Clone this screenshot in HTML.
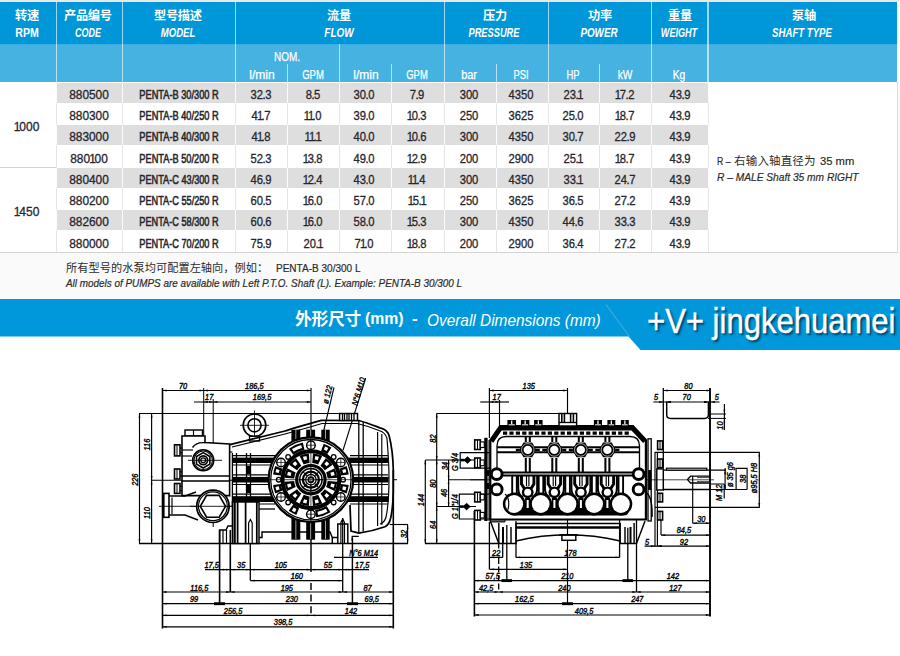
<!DOCTYPE html><html><head><meta charset="utf-8"><title>PENTA pumps - technical data</title><style>html,body{margin:0;padding:0;overflow:hidden;background:#fff}#pg{position:relative;width:900px;height:656px;overflow:hidden;background:#fff;font-family:"Liberation Sans",sans-serif}.cjk{font-family:"Liberation Sans","Noto Sans CJK SC",sans-serif}</style></head><body><div id="pg"><div style="position:absolute;left:0px;top:0px;width:900px;height:299px;background:#fafafa;"></div>
<div style="position:absolute;left:0px;top:0px;width:900px;height:2px;background:#ebe8e8;"></div>
<div style="position:absolute;left:0px;top:82px;width:897px;height:170.5px;background:#ffffff;"></div>
<div style="position:absolute;left:0px;top:2px;width:896.5px;height:42px;background:#0097d8;"></div>
<div style="position:absolute;left:0px;top:44px;width:896.5px;height:38px;background:#45b2e2;"></div>
<div style="position:absolute;left:0px;top:43.5px;width:896.5px;height:1px;background:#3aaee2;"></div>
<div style="position:absolute;left:55.8px;top:2px;width:1.4px;height:80px;background:rgba(255,255,255,.62);"></div>
<div style="position:absolute;left:121.8px;top:2px;width:1.4px;height:80px;background:rgba(255,255,255,.62);"></div>
<div style="position:absolute;left:234.8px;top:2px;width:1.4px;height:80px;background:rgba(255,255,255,.62);"></div>
<div style="position:absolute;left:443.8px;top:2px;width:1.4px;height:80px;background:rgba(255,255,255,.62);"></div>
<div style="position:absolute;left:547.8px;top:2px;width:1.4px;height:80px;background:rgba(255,255,255,.62);"></div>
<div style="position:absolute;left:650.8px;top:2px;width:1.4px;height:80px;background:rgba(255,255,255,.62);"></div>
<div style="position:absolute;left:707.3px;top:2px;width:1.4px;height:80px;background:rgba(255,255,255,.62);"></div>
<div style="position:absolute;left:338.8px;top:44px;width:1.4px;height:38px;background:rgba(255,255,255,.62);"></div>
<div style="position:absolute;left:286.8px;top:63.5px;width:1.4px;height:18.5px;background:rgba(255,255,255,.62);"></div>
<div style="position:absolute;left:390.8px;top:63.5px;width:1.4px;height:18.5px;background:rgba(255,255,255,.62);"></div>
<div style="position:absolute;left:495.8px;top:63.5px;width:1.4px;height:18.5px;background:rgba(255,255,255,.62);"></div>
<div style="position:absolute;left:598.8px;top:63.5px;width:1.4px;height:18.5px;background:rgba(255,255,255,.62);"></div>
<svg style="position:absolute;left:15.40px;top:7.70px;overflow:visible" width="23.80" height="15.86" fill="#fff"><text class="cjk" x="0" y="12.2" font-size="12.2" font-weight="bold" letter-spacing="-0.3" fill="#fff">转速</text></svg>
<div style="position:absolute;top:25.00px;height:16px;line-height:16px;font-size:12px;color:#fff;white-space:nowrap;font-weight:bold;left:-173.20px;width:400px;text-align:center;transform:scaleX(0.8813);">RPM</div>
<svg style="position:absolute;left:63.60px;top:7.70px;overflow:visible" width="47.60" height="15.86" fill="#fff"><text class="cjk" x="0" y="12.2" font-size="12.2" font-weight="bold" letter-spacing="-0.3" fill="#fff">产品编号</text></svg>
<div style="position:absolute;top:25.00px;height:16px;line-height:16px;font-size:12px;color:#fff;white-space:nowrap;font-weight:bold;font-style:italic;left:-111.70px;width:400px;text-align:center;transform:scaleX(0.7442);">CODE</div>
<svg style="position:absolute;left:154.00px;top:7.70px;overflow:visible" width="47.60" height="15.86" fill="#fff"><text class="cjk" x="0" y="12.2" font-size="12.2" font-weight="bold" letter-spacing="-0.3" fill="#fff">型号描述</text></svg>
<div style="position:absolute;top:25.00px;height:16px;line-height:16px;font-size:12px;color:#fff;white-space:nowrap;font-weight:bold;font-style:italic;left:-21.80px;width:400px;text-align:center;transform:scaleX(0.7939);">MODEL</div>
<svg style="position:absolute;left:327.00px;top:7.70px;overflow:visible" width="23.80" height="15.86" fill="#fff"><text class="cjk" x="0" y="12.2" font-size="12.2" font-weight="bold" letter-spacing="-0.3" fill="#fff">流量</text></svg>
<div style="position:absolute;top:25.00px;height:16px;line-height:16px;font-size:12px;color:#fff;white-space:nowrap;font-weight:bold;font-style:italic;left:139.40px;width:400px;text-align:center;transform:scaleX(0.8296);">FLOW</div>
<svg style="position:absolute;left:482.90px;top:7.70px;overflow:visible" width="23.80" height="15.86" fill="#fff"><text class="cjk" x="0" y="12.2" font-size="12.2" font-weight="bold" letter-spacing="-0.3" fill="#fff">压力</text></svg>
<div style="position:absolute;top:25.00px;height:16px;line-height:16px;font-size:12px;color:#fff;white-space:nowrap;font-weight:bold;font-style:italic;left:294.20px;width:400px;text-align:center;transform:scaleX(0.7725);">PRESSURE</div>
<svg style="position:absolute;left:587.90px;top:7.70px;overflow:visible" width="23.80" height="15.86" fill="#fff"><text class="cjk" x="0" y="12.2" font-size="12.2" font-weight="bold" letter-spacing="-0.3" fill="#fff">功率</text></svg>
<div style="position:absolute;top:25.00px;height:16px;line-height:16px;font-size:12px;color:#fff;white-space:nowrap;font-weight:bold;font-style:italic;left:399.20px;width:400px;text-align:center;transform:scaleX(0.8206);">POWER</div>
<svg style="position:absolute;left:668.30px;top:7.70px;overflow:visible" width="23.80" height="15.86" fill="#fff"><text class="cjk" x="0" y="12.2" font-size="12.2" font-weight="bold" letter-spacing="-0.3" fill="#fff">重量</text></svg>
<div style="position:absolute;top:25.00px;height:16px;line-height:16px;font-size:12px;color:#fff;white-space:nowrap;font-weight:bold;font-style:italic;left:478.80px;width:400px;text-align:center;transform:scaleX(0.7563);">WEIGHT</div>
<svg style="position:absolute;left:792.30px;top:7.70px;overflow:visible" width="23.80" height="15.86" fill="#fff"><text class="cjk" x="0" y="12.2" font-size="12.2" font-weight="bold" letter-spacing="-0.3" fill="#fff">泵轴</text></svg>
<div style="position:absolute;top:25.00px;height:16px;line-height:16px;font-size:12px;color:#fff;white-space:nowrap;font-weight:bold;font-style:italic;left:601.50px;width:400px;text-align:center;transform:scaleX(0.8008);">SHAFT TYPE</div>
<div style="position:absolute;top:49.00px;height:16px;line-height:16px;font-size:12.3px;color:#fff;white-space:nowrap;left:86.60px;width:400px;text-align:center;transform:scaleX(0.8065);-webkit-text-stroke:0.25px #fff;">NOM.</div>
<div style="position:absolute;top:67.00px;height:16px;line-height:16px;font-size:12.3px;color:#fff;white-space:nowrap;left:61.80px;width:400px;text-align:center;transform:scaleX(0.9819);-webkit-text-stroke:0.25px #fff;">l/min</div>
<div style="position:absolute;top:67.00px;height:16px;line-height:16px;font-size:12.3px;color:#fff;white-space:nowrap;left:113.30px;width:400px;text-align:center;transform:scaleX(0.7745);-webkit-text-stroke:0.25px #fff;">GPM</div>
<div style="position:absolute;top:67.00px;height:16px;line-height:16px;font-size:12.3px;color:#fff;white-space:nowrap;left:165.70px;width:400px;text-align:center;transform:scaleX(0.9781);-webkit-text-stroke:0.25px #fff;">l/min</div>
<div style="position:absolute;top:67.00px;height:16px;line-height:16px;font-size:12.3px;color:#fff;white-space:nowrap;left:217.30px;width:400px;text-align:center;transform:scaleX(0.7674);-webkit-text-stroke:0.25px #fff;">GPM</div>
<div style="position:absolute;top:67.00px;height:16px;line-height:16px;font-size:12.3px;color:#fff;white-space:nowrap;left:269.40px;width:400px;text-align:center;transform:scaleX(0.8831);-webkit-text-stroke:0.25px #fff;">bar</div>
<div style="position:absolute;top:67.00px;height:16px;line-height:16px;font-size:12.3px;color:#fff;white-space:nowrap;left:320.90px;width:400px;text-align:center;transform:scaleX(0.7667);-webkit-text-stroke:0.25px #fff;">PSI</div>
<div style="position:absolute;top:67.00px;height:16px;line-height:16px;font-size:12.3px;color:#fff;white-space:nowrap;left:372.90px;width:400px;text-align:center;transform:scaleX(0.7608);-webkit-text-stroke:0.25px #fff;">HP</div>
<div style="position:absolute;top:67.00px;height:16px;line-height:16px;font-size:12.3px;color:#fff;white-space:nowrap;left:425.40px;width:400px;text-align:center;transform:scaleX(0.8277);-webkit-text-stroke:0.25px #fff;">kW</div>
<div style="position:absolute;top:67.00px;height:16px;line-height:16px;font-size:12.3px;color:#fff;white-space:nowrap;left:478.50px;width:400px;text-align:center;transform:scaleX(0.8309);-webkit-text-stroke:0.25px #fff;">Kg</div>
<div style="position:absolute;left:56px;top:83px;width:652px;height:19.6px;background:#dedede;"></div>
<div style="position:absolute;left:56px;top:125px;width:652px;height:20.3px;background:#dedede;"></div>
<div style="position:absolute;left:56px;top:168.2px;width:652px;height:19.9px;background:#dedede;"></div>
<div style="position:absolute;left:56px;top:210px;width:652px;height:20.2px;background:#dedede;"></div>
<div style="position:absolute;left:56px;top:82px;width:1px;height:170px;background:#e6e6e6;"></div>
<div style="position:absolute;left:56px;top:83px;width:1px;height:19.6px;background:#fbfbfb;"></div>
<div style="position:absolute;left:56px;top:125px;width:1px;height:20.3px;background:#fbfbfb;"></div>
<div style="position:absolute;left:56px;top:168.2px;width:1px;height:19.9px;background:#fbfbfb;"></div>
<div style="position:absolute;left:56px;top:210px;width:1px;height:20.2px;background:#fbfbfb;"></div>
<div style="position:absolute;left:122px;top:82px;width:1px;height:170px;background:#e6e6e6;"></div>
<div style="position:absolute;left:122px;top:83px;width:1px;height:19.6px;background:#fbfbfb;"></div>
<div style="position:absolute;left:122px;top:125px;width:1px;height:20.3px;background:#fbfbfb;"></div>
<div style="position:absolute;left:122px;top:168.2px;width:1px;height:19.9px;background:#fbfbfb;"></div>
<div style="position:absolute;left:122px;top:210px;width:1px;height:20.2px;background:#fbfbfb;"></div>
<div style="position:absolute;left:235px;top:82px;width:1px;height:170px;background:#e6e6e6;"></div>
<div style="position:absolute;left:235px;top:83px;width:1px;height:19.6px;background:#fbfbfb;"></div>
<div style="position:absolute;left:235px;top:125px;width:1px;height:20.3px;background:#fbfbfb;"></div>
<div style="position:absolute;left:235px;top:168.2px;width:1px;height:19.9px;background:#fbfbfb;"></div>
<div style="position:absolute;left:235px;top:210px;width:1px;height:20.2px;background:#fbfbfb;"></div>
<div style="position:absolute;left:287px;top:82px;width:1px;height:170px;background:#e6e6e6;"></div>
<div style="position:absolute;left:287px;top:83px;width:1px;height:19.6px;background:#fbfbfb;"></div>
<div style="position:absolute;left:287px;top:125px;width:1px;height:20.3px;background:#fbfbfb;"></div>
<div style="position:absolute;left:287px;top:168.2px;width:1px;height:19.9px;background:#fbfbfb;"></div>
<div style="position:absolute;left:287px;top:210px;width:1px;height:20.2px;background:#fbfbfb;"></div>
<div style="position:absolute;left:339px;top:82px;width:1px;height:170px;background:#e6e6e6;"></div>
<div style="position:absolute;left:339px;top:83px;width:1px;height:19.6px;background:#fbfbfb;"></div>
<div style="position:absolute;left:339px;top:125px;width:1px;height:20.3px;background:#fbfbfb;"></div>
<div style="position:absolute;left:339px;top:168.2px;width:1px;height:19.9px;background:#fbfbfb;"></div>
<div style="position:absolute;left:339px;top:210px;width:1px;height:20.2px;background:#fbfbfb;"></div>
<div style="position:absolute;left:391px;top:82px;width:1px;height:170px;background:#e6e6e6;"></div>
<div style="position:absolute;left:391px;top:83px;width:1px;height:19.6px;background:#fbfbfb;"></div>
<div style="position:absolute;left:391px;top:125px;width:1px;height:20.3px;background:#fbfbfb;"></div>
<div style="position:absolute;left:391px;top:168.2px;width:1px;height:19.9px;background:#fbfbfb;"></div>
<div style="position:absolute;left:391px;top:210px;width:1px;height:20.2px;background:#fbfbfb;"></div>
<div style="position:absolute;left:444px;top:82px;width:1px;height:170px;background:#e6e6e6;"></div>
<div style="position:absolute;left:444px;top:83px;width:1px;height:19.6px;background:#fbfbfb;"></div>
<div style="position:absolute;left:444px;top:125px;width:1px;height:20.3px;background:#fbfbfb;"></div>
<div style="position:absolute;left:444px;top:168.2px;width:1px;height:19.9px;background:#fbfbfb;"></div>
<div style="position:absolute;left:444px;top:210px;width:1px;height:20.2px;background:#fbfbfb;"></div>
<div style="position:absolute;left:496px;top:82px;width:1px;height:170px;background:#e6e6e6;"></div>
<div style="position:absolute;left:496px;top:83px;width:1px;height:19.6px;background:#fbfbfb;"></div>
<div style="position:absolute;left:496px;top:125px;width:1px;height:20.3px;background:#fbfbfb;"></div>
<div style="position:absolute;left:496px;top:168.2px;width:1px;height:19.9px;background:#fbfbfb;"></div>
<div style="position:absolute;left:496px;top:210px;width:1px;height:20.2px;background:#fbfbfb;"></div>
<div style="position:absolute;left:548px;top:82px;width:1px;height:170px;background:#e6e6e6;"></div>
<div style="position:absolute;left:548px;top:83px;width:1px;height:19.6px;background:#fbfbfb;"></div>
<div style="position:absolute;left:548px;top:125px;width:1px;height:20.3px;background:#fbfbfb;"></div>
<div style="position:absolute;left:548px;top:168.2px;width:1px;height:19.9px;background:#fbfbfb;"></div>
<div style="position:absolute;left:548px;top:210px;width:1px;height:20.2px;background:#fbfbfb;"></div>
<div style="position:absolute;left:599px;top:82px;width:1px;height:170px;background:#e6e6e6;"></div>
<div style="position:absolute;left:599px;top:83px;width:1px;height:19.6px;background:#fbfbfb;"></div>
<div style="position:absolute;left:599px;top:125px;width:1px;height:20.3px;background:#fbfbfb;"></div>
<div style="position:absolute;left:599px;top:168.2px;width:1px;height:19.9px;background:#fbfbfb;"></div>
<div style="position:absolute;left:599px;top:210px;width:1px;height:20.2px;background:#fbfbfb;"></div>
<div style="position:absolute;left:651px;top:82px;width:1px;height:170px;background:#e6e6e6;"></div>
<div style="position:absolute;left:651px;top:83px;width:1px;height:19.6px;background:#fbfbfb;"></div>
<div style="position:absolute;left:651px;top:125px;width:1px;height:20.3px;background:#fbfbfb;"></div>
<div style="position:absolute;left:651px;top:168.2px;width:1px;height:19.9px;background:#fbfbfb;"></div>
<div style="position:absolute;left:651px;top:210px;width:1px;height:20.2px;background:#fbfbfb;"></div>
<div style="position:absolute;left:708px;top:82px;width:1px;height:170px;background:#e6e6e6;"></div>
<div style="position:absolute;left:708px;top:83px;width:1px;height:19.6px;background:#fbfbfb;"></div>
<div style="position:absolute;left:708px;top:125px;width:1px;height:20.3px;background:#fbfbfb;"></div>
<div style="position:absolute;left:708px;top:168.2px;width:1px;height:19.9px;background:#fbfbfb;"></div>
<div style="position:absolute;left:708px;top:210px;width:1px;height:20.2px;background:#fbfbfb;"></div>
<div style="position:absolute;left:897px;top:82px;width:1px;height:171px;background:#dcdcdc;"></div>
<div style="position:absolute;left:0px;top:167.3px;width:56px;height:1px;background:#d4d4d4;"></div>
<div style="position:absolute;left:0px;top:252px;width:898px;height:1px;background:#d4d4d4;"></div>
<div style="position:absolute;top:87.00px;height:16px;line-height:16px;font-size:12px;color:#26262e;white-space:nowrap;left:-111.50px;width:400px;text-align:center;transform:scaleX(0.9900);-webkit-text-stroke:0.3px #26262e;">880500</div>
<div style="position:absolute;top:87.00px;height:16px;line-height:16px;font-size:12px;color:#26262e;white-space:nowrap;left:-21.50px;width:400px;text-align:center;transform:scaleX(0.7687);-webkit-text-stroke:0.55px #26262e;">PENTA-B 30/300 R</div>
<div style="position:absolute;top:87.00px;height:16px;line-height:16px;font-size:12px;color:#26262e;white-space:nowrap;left:61.10px;width:400px;text-align:center;transform:scaleX(0.9350);-webkit-text-stroke:0.3px #26262e;">32<span style="margin:0 -0.5px">.</span>3</div>
<div style="position:absolute;top:87.00px;height:16px;line-height:16px;font-size:12px;color:#26262e;white-space:nowrap;left:112.60px;width:400px;text-align:center;transform:scaleX(0.9350);-webkit-text-stroke:0.3px #26262e;">8<span style="margin:0 -0.5px">.</span>5</div>
<div style="position:absolute;top:87.00px;height:16px;line-height:16px;font-size:12px;color:#26262e;white-space:nowrap;left:164.40px;width:400px;text-align:center;transform:scaleX(0.9350);-webkit-text-stroke:0.3px #26262e;">30<span style="margin:0 -0.5px">.</span>0</div>
<div style="position:absolute;top:87.00px;height:16px;line-height:16px;font-size:12px;color:#26262e;white-space:nowrap;left:217.20px;width:400px;text-align:center;transform:scaleX(0.9350);-webkit-text-stroke:0.3px #26262e;">7<span style="margin:0 -0.5px">.</span>9</div>
<div style="position:absolute;top:87.00px;height:16px;line-height:16px;font-size:12px;color:#26262e;white-space:nowrap;left:268.90px;width:400px;text-align:center;transform:scaleX(0.9350);-webkit-text-stroke:0.3px #26262e;">300</div>
<div style="position:absolute;top:87.00px;height:16px;line-height:16px;font-size:12px;color:#26262e;white-space:nowrap;left:321.30px;width:400px;text-align:center;transform:scaleX(0.9350);-webkit-text-stroke:0.3px #26262e;">4350</div>
<div style="position:absolute;top:87.00px;height:16px;line-height:16px;font-size:12px;color:#26262e;white-space:nowrap;left:373.20px;width:400px;text-align:center;transform:scaleX(0.9350);-webkit-text-stroke:0.3px #26262e;">23<span style="margin:0 -0.5px">.</span><span style="margin:0 -1.2px 0 -0.9px">1</span></div>
<div style="position:absolute;top:87.00px;height:16px;line-height:16px;font-size:12px;color:#26262e;white-space:nowrap;left:425.40px;width:400px;text-align:center;transform:scaleX(0.9350);-webkit-text-stroke:0.3px #26262e;"><span style="margin:0 -1.2px 0 -0.9px">1</span>7<span style="margin:0 -0.5px">.</span>2</div>
<div style="position:absolute;top:87.00px;height:16px;line-height:16px;font-size:12px;color:#26262e;white-space:nowrap;left:479.50px;width:400px;text-align:center;transform:scaleX(0.9350);-webkit-text-stroke:0.3px #26262e;">43<span style="margin:0 -0.5px">.</span>9</div>
<div style="position:absolute;top:108.00px;height:16px;line-height:16px;font-size:12px;color:#26262e;white-space:nowrap;left:-111.50px;width:400px;text-align:center;transform:scaleX(0.9900);-webkit-text-stroke:0.3px #26262e;">880300</div>
<div style="position:absolute;top:108.00px;height:16px;line-height:16px;font-size:12px;color:#26262e;white-space:nowrap;left:-21.50px;width:400px;text-align:center;transform:scaleX(0.7687);-webkit-text-stroke:0.55px #26262e;">PENTA-B 40/250 R</div>
<div style="position:absolute;top:108.00px;height:16px;line-height:16px;font-size:12px;color:#26262e;white-space:nowrap;left:61.10px;width:400px;text-align:center;transform:scaleX(0.9350);-webkit-text-stroke:0.3px #26262e;">4<span style="margin:0 -1.2px 0 -0.9px">1</span><span style="margin:0 -0.5px">.</span>7</div>
<div style="position:absolute;top:108.00px;height:16px;line-height:16px;font-size:12px;color:#26262e;white-space:nowrap;left:112.60px;width:400px;text-align:center;transform:scaleX(0.9350);-webkit-text-stroke:0.3px #26262e;"><span style="margin:0 -1.2px 0 -0.9px">1</span><span style="margin:0 -1.2px 0 -0.9px">1</span><span style="margin:0 -0.5px">.</span>0</div>
<div style="position:absolute;top:108.00px;height:16px;line-height:16px;font-size:12px;color:#26262e;white-space:nowrap;left:164.40px;width:400px;text-align:center;transform:scaleX(0.9350);-webkit-text-stroke:0.3px #26262e;">39<span style="margin:0 -0.5px">.</span>0</div>
<div style="position:absolute;top:108.00px;height:16px;line-height:16px;font-size:12px;color:#26262e;white-space:nowrap;left:217.20px;width:400px;text-align:center;transform:scaleX(0.9350);-webkit-text-stroke:0.3px #26262e;"><span style="margin:0 -1.2px 0 -0.9px">1</span>0<span style="margin:0 -0.5px">.</span>3</div>
<div style="position:absolute;top:108.00px;height:16px;line-height:16px;font-size:12px;color:#26262e;white-space:nowrap;left:268.90px;width:400px;text-align:center;transform:scaleX(0.9350);-webkit-text-stroke:0.3px #26262e;">250</div>
<div style="position:absolute;top:108.00px;height:16px;line-height:16px;font-size:12px;color:#26262e;white-space:nowrap;left:321.30px;width:400px;text-align:center;transform:scaleX(0.9350);-webkit-text-stroke:0.3px #26262e;">3625</div>
<div style="position:absolute;top:108.00px;height:16px;line-height:16px;font-size:12px;color:#26262e;white-space:nowrap;left:373.20px;width:400px;text-align:center;transform:scaleX(0.9350);-webkit-text-stroke:0.3px #26262e;">25<span style="margin:0 -0.5px">.</span>0</div>
<div style="position:absolute;top:108.00px;height:16px;line-height:16px;font-size:12px;color:#26262e;white-space:nowrap;left:425.40px;width:400px;text-align:center;transform:scaleX(0.9350);-webkit-text-stroke:0.3px #26262e;"><span style="margin:0 -1.2px 0 -0.9px">1</span>8<span style="margin:0 -0.5px">.</span>7</div>
<div style="position:absolute;top:108.00px;height:16px;line-height:16px;font-size:12px;color:#26262e;white-space:nowrap;left:479.50px;width:400px;text-align:center;transform:scaleX(0.9350);-webkit-text-stroke:0.3px #26262e;">43<span style="margin:0 -0.5px">.</span>9</div>
<div style="position:absolute;top:129.00px;height:16px;line-height:16px;font-size:12px;color:#26262e;white-space:nowrap;left:-111.50px;width:400px;text-align:center;transform:scaleX(0.9900);-webkit-text-stroke:0.3px #26262e;">883000</div>
<div style="position:absolute;top:129.00px;height:16px;line-height:16px;font-size:12px;color:#26262e;white-space:nowrap;left:-21.50px;width:400px;text-align:center;transform:scaleX(0.7687);-webkit-text-stroke:0.55px #26262e;">PENTA-B 40/300 R</div>
<div style="position:absolute;top:129.00px;height:16px;line-height:16px;font-size:12px;color:#26262e;white-space:nowrap;left:61.10px;width:400px;text-align:center;transform:scaleX(0.9350);-webkit-text-stroke:0.3px #26262e;">4<span style="margin:0 -1.2px 0 -0.9px">1</span><span style="margin:0 -0.5px">.</span>8</div>
<div style="position:absolute;top:129.00px;height:16px;line-height:16px;font-size:12px;color:#26262e;white-space:nowrap;left:112.60px;width:400px;text-align:center;transform:scaleX(0.9350);-webkit-text-stroke:0.3px #26262e;"><span style="margin:0 -1.2px 0 -0.9px">1</span><span style="margin:0 -1.2px 0 -0.9px">1</span><span style="margin:0 -0.5px">.</span><span style="margin:0 -1.2px 0 -0.9px">1</span></div>
<div style="position:absolute;top:129.00px;height:16px;line-height:16px;font-size:12px;color:#26262e;white-space:nowrap;left:164.40px;width:400px;text-align:center;transform:scaleX(0.9350);-webkit-text-stroke:0.3px #26262e;">40<span style="margin:0 -0.5px">.</span>0</div>
<div style="position:absolute;top:129.00px;height:16px;line-height:16px;font-size:12px;color:#26262e;white-space:nowrap;left:217.20px;width:400px;text-align:center;transform:scaleX(0.9350);-webkit-text-stroke:0.3px #26262e;"><span style="margin:0 -1.2px 0 -0.9px">1</span>0<span style="margin:0 -0.5px">.</span>6</div>
<div style="position:absolute;top:129.00px;height:16px;line-height:16px;font-size:12px;color:#26262e;white-space:nowrap;left:268.90px;width:400px;text-align:center;transform:scaleX(0.9350);-webkit-text-stroke:0.3px #26262e;">300</div>
<div style="position:absolute;top:129.00px;height:16px;line-height:16px;font-size:12px;color:#26262e;white-space:nowrap;left:321.30px;width:400px;text-align:center;transform:scaleX(0.9350);-webkit-text-stroke:0.3px #26262e;">4350</div>
<div style="position:absolute;top:129.00px;height:16px;line-height:16px;font-size:12px;color:#26262e;white-space:nowrap;left:373.20px;width:400px;text-align:center;transform:scaleX(0.9350);-webkit-text-stroke:0.3px #26262e;">30<span style="margin:0 -0.5px">.</span>7</div>
<div style="position:absolute;top:129.00px;height:16px;line-height:16px;font-size:12px;color:#26262e;white-space:nowrap;left:425.40px;width:400px;text-align:center;transform:scaleX(0.9350);-webkit-text-stroke:0.3px #26262e;">22<span style="margin:0 -0.5px">.</span>9</div>
<div style="position:absolute;top:129.00px;height:16px;line-height:16px;font-size:12px;color:#26262e;white-space:nowrap;left:479.50px;width:400px;text-align:center;transform:scaleX(0.9350);-webkit-text-stroke:0.3px #26262e;">43<span style="margin:0 -0.5px">.</span>9</div>
<div style="position:absolute;top:151.00px;height:16px;line-height:16px;font-size:12px;color:#26262e;white-space:nowrap;left:-111.50px;width:400px;text-align:center;transform:scaleX(0.9900);-webkit-text-stroke:0.3px #26262e;">880<span style="margin:0 -1.2px 0 -0.9px">1</span>00</div>
<div style="position:absolute;top:151.00px;height:16px;line-height:16px;font-size:12px;color:#26262e;white-space:nowrap;left:-21.50px;width:400px;text-align:center;transform:scaleX(0.7687);-webkit-text-stroke:0.55px #26262e;">PENTA-B 50/200 R</div>
<div style="position:absolute;top:151.00px;height:16px;line-height:16px;font-size:12px;color:#26262e;white-space:nowrap;left:61.10px;width:400px;text-align:center;transform:scaleX(0.9350);-webkit-text-stroke:0.3px #26262e;">52<span style="margin:0 -0.5px">.</span>3</div>
<div style="position:absolute;top:151.00px;height:16px;line-height:16px;font-size:12px;color:#26262e;white-space:nowrap;left:112.60px;width:400px;text-align:center;transform:scaleX(0.9350);-webkit-text-stroke:0.3px #26262e;"><span style="margin:0 -1.2px 0 -0.9px">1</span>3<span style="margin:0 -0.5px">.</span>8</div>
<div style="position:absolute;top:151.00px;height:16px;line-height:16px;font-size:12px;color:#26262e;white-space:nowrap;left:164.40px;width:400px;text-align:center;transform:scaleX(0.9350);-webkit-text-stroke:0.3px #26262e;">49<span style="margin:0 -0.5px">.</span>0</div>
<div style="position:absolute;top:151.00px;height:16px;line-height:16px;font-size:12px;color:#26262e;white-space:nowrap;left:217.20px;width:400px;text-align:center;transform:scaleX(0.9350);-webkit-text-stroke:0.3px #26262e;"><span style="margin:0 -1.2px 0 -0.9px">1</span>2<span style="margin:0 -0.5px">.</span>9</div>
<div style="position:absolute;top:151.00px;height:16px;line-height:16px;font-size:12px;color:#26262e;white-space:nowrap;left:268.90px;width:400px;text-align:center;transform:scaleX(0.9350);-webkit-text-stroke:0.3px #26262e;">200</div>
<div style="position:absolute;top:151.00px;height:16px;line-height:16px;font-size:12px;color:#26262e;white-space:nowrap;left:321.30px;width:400px;text-align:center;transform:scaleX(0.9350);-webkit-text-stroke:0.3px #26262e;">2900</div>
<div style="position:absolute;top:151.00px;height:16px;line-height:16px;font-size:12px;color:#26262e;white-space:nowrap;left:373.20px;width:400px;text-align:center;transform:scaleX(0.9350);-webkit-text-stroke:0.3px #26262e;">25<span style="margin:0 -0.5px">.</span><span style="margin:0 -1.2px 0 -0.9px">1</span></div>
<div style="position:absolute;top:151.00px;height:16px;line-height:16px;font-size:12px;color:#26262e;white-space:nowrap;left:425.40px;width:400px;text-align:center;transform:scaleX(0.9350);-webkit-text-stroke:0.3px #26262e;"><span style="margin:0 -1.2px 0 -0.9px">1</span>8<span style="margin:0 -0.5px">.</span>7</div>
<div style="position:absolute;top:151.00px;height:16px;line-height:16px;font-size:12px;color:#26262e;white-space:nowrap;left:479.50px;width:400px;text-align:center;transform:scaleX(0.9350);-webkit-text-stroke:0.3px #26262e;">43<span style="margin:0 -0.5px">.</span>9</div>
<div style="position:absolute;top:172.00px;height:16px;line-height:16px;font-size:12px;color:#26262e;white-space:nowrap;left:-111.50px;width:400px;text-align:center;transform:scaleX(0.9900);-webkit-text-stroke:0.3px #26262e;">880400</div>
<div style="position:absolute;top:172.00px;height:16px;line-height:16px;font-size:12px;color:#26262e;white-space:nowrap;left:-21.50px;width:400px;text-align:center;transform:scaleX(0.7638);-webkit-text-stroke:0.55px #26262e;">PENTA-C 43/300 R</div>
<div style="position:absolute;top:172.00px;height:16px;line-height:16px;font-size:12px;color:#26262e;white-space:nowrap;left:61.10px;width:400px;text-align:center;transform:scaleX(0.9350);-webkit-text-stroke:0.3px #26262e;">46<span style="margin:0 -0.5px">.</span>9</div>
<div style="position:absolute;top:172.00px;height:16px;line-height:16px;font-size:12px;color:#26262e;white-space:nowrap;left:112.60px;width:400px;text-align:center;transform:scaleX(0.9350);-webkit-text-stroke:0.3px #26262e;"><span style="margin:0 -1.2px 0 -0.9px">1</span>2<span style="margin:0 -0.5px">.</span>4</div>
<div style="position:absolute;top:172.00px;height:16px;line-height:16px;font-size:12px;color:#26262e;white-space:nowrap;left:164.40px;width:400px;text-align:center;transform:scaleX(0.9350);-webkit-text-stroke:0.3px #26262e;">43<span style="margin:0 -0.5px">.</span>0</div>
<div style="position:absolute;top:172.00px;height:16px;line-height:16px;font-size:12px;color:#26262e;white-space:nowrap;left:217.20px;width:400px;text-align:center;transform:scaleX(0.9350);-webkit-text-stroke:0.3px #26262e;"><span style="margin:0 -1.2px 0 -0.9px">1</span><span style="margin:0 -1.2px 0 -0.9px">1</span><span style="margin:0 -0.5px">.</span>4</div>
<div style="position:absolute;top:172.00px;height:16px;line-height:16px;font-size:12px;color:#26262e;white-space:nowrap;left:268.90px;width:400px;text-align:center;transform:scaleX(0.9350);-webkit-text-stroke:0.3px #26262e;">300</div>
<div style="position:absolute;top:172.00px;height:16px;line-height:16px;font-size:12px;color:#26262e;white-space:nowrap;left:321.30px;width:400px;text-align:center;transform:scaleX(0.9350);-webkit-text-stroke:0.3px #26262e;">4350</div>
<div style="position:absolute;top:172.00px;height:16px;line-height:16px;font-size:12px;color:#26262e;white-space:nowrap;left:373.20px;width:400px;text-align:center;transform:scaleX(0.9350);-webkit-text-stroke:0.3px #26262e;">33<span style="margin:0 -0.5px">.</span><span style="margin:0 -1.2px 0 -0.9px">1</span></div>
<div style="position:absolute;top:172.00px;height:16px;line-height:16px;font-size:12px;color:#26262e;white-space:nowrap;left:425.40px;width:400px;text-align:center;transform:scaleX(0.9350);-webkit-text-stroke:0.3px #26262e;">24<span style="margin:0 -0.5px">.</span>7</div>
<div style="position:absolute;top:172.00px;height:16px;line-height:16px;font-size:12px;color:#26262e;white-space:nowrap;left:479.50px;width:400px;text-align:center;transform:scaleX(0.9350);-webkit-text-stroke:0.3px #26262e;">43<span style="margin:0 -0.5px">.</span>9</div>
<div style="position:absolute;top:193.00px;height:16px;line-height:16px;font-size:12px;color:#26262e;white-space:nowrap;left:-111.50px;width:400px;text-align:center;transform:scaleX(0.9900);-webkit-text-stroke:0.3px #26262e;">880200</div>
<div style="position:absolute;top:193.00px;height:16px;line-height:16px;font-size:12px;color:#26262e;white-space:nowrap;left:-21.50px;width:400px;text-align:center;transform:scaleX(0.7638);-webkit-text-stroke:0.55px #26262e;">PENTA-C 55/250 R</div>
<div style="position:absolute;top:193.00px;height:16px;line-height:16px;font-size:12px;color:#26262e;white-space:nowrap;left:61.10px;width:400px;text-align:center;transform:scaleX(0.9350);-webkit-text-stroke:0.3px #26262e;">60<span style="margin:0 -0.5px">.</span>5</div>
<div style="position:absolute;top:193.00px;height:16px;line-height:16px;font-size:12px;color:#26262e;white-space:nowrap;left:112.60px;width:400px;text-align:center;transform:scaleX(0.9350);-webkit-text-stroke:0.3px #26262e;"><span style="margin:0 -1.2px 0 -0.9px">1</span>6<span style="margin:0 -0.5px">.</span>0</div>
<div style="position:absolute;top:193.00px;height:16px;line-height:16px;font-size:12px;color:#26262e;white-space:nowrap;left:164.40px;width:400px;text-align:center;transform:scaleX(0.9350);-webkit-text-stroke:0.3px #26262e;">57<span style="margin:0 -0.5px">.</span>0</div>
<div style="position:absolute;top:193.00px;height:16px;line-height:16px;font-size:12px;color:#26262e;white-space:nowrap;left:217.20px;width:400px;text-align:center;transform:scaleX(0.9350);-webkit-text-stroke:0.3px #26262e;"><span style="margin:0 -1.2px 0 -0.9px">1</span>5<span style="margin:0 -0.5px">.</span><span style="margin:0 -1.2px 0 -0.9px">1</span></div>
<div style="position:absolute;top:193.00px;height:16px;line-height:16px;font-size:12px;color:#26262e;white-space:nowrap;left:268.90px;width:400px;text-align:center;transform:scaleX(0.9350);-webkit-text-stroke:0.3px #26262e;">250</div>
<div style="position:absolute;top:193.00px;height:16px;line-height:16px;font-size:12px;color:#26262e;white-space:nowrap;left:321.30px;width:400px;text-align:center;transform:scaleX(0.9350);-webkit-text-stroke:0.3px #26262e;">3625</div>
<div style="position:absolute;top:193.00px;height:16px;line-height:16px;font-size:12px;color:#26262e;white-space:nowrap;left:373.20px;width:400px;text-align:center;transform:scaleX(0.9350);-webkit-text-stroke:0.3px #26262e;">36<span style="margin:0 -0.5px">.</span>5</div>
<div style="position:absolute;top:193.00px;height:16px;line-height:16px;font-size:12px;color:#26262e;white-space:nowrap;left:425.40px;width:400px;text-align:center;transform:scaleX(0.9350);-webkit-text-stroke:0.3px #26262e;">27<span style="margin:0 -0.5px">.</span>2</div>
<div style="position:absolute;top:193.00px;height:16px;line-height:16px;font-size:12px;color:#26262e;white-space:nowrap;left:479.50px;width:400px;text-align:center;transform:scaleX(0.9350);-webkit-text-stroke:0.3px #26262e;">43<span style="margin:0 -0.5px">.</span>9</div>
<div style="position:absolute;top:214.00px;height:16px;line-height:16px;font-size:12px;color:#26262e;white-space:nowrap;left:-111.50px;width:400px;text-align:center;transform:scaleX(0.9900);-webkit-text-stroke:0.3px #26262e;">882600</div>
<div style="position:absolute;top:214.00px;height:16px;line-height:16px;font-size:12px;color:#26262e;white-space:nowrap;left:-21.50px;width:400px;text-align:center;transform:scaleX(0.7638);-webkit-text-stroke:0.55px #26262e;">PENTA-C 58/300 R</div>
<div style="position:absolute;top:214.00px;height:16px;line-height:16px;font-size:12px;color:#26262e;white-space:nowrap;left:61.10px;width:400px;text-align:center;transform:scaleX(0.9350);-webkit-text-stroke:0.3px #26262e;">60<span style="margin:0 -0.5px">.</span>6</div>
<div style="position:absolute;top:214.00px;height:16px;line-height:16px;font-size:12px;color:#26262e;white-space:nowrap;left:112.60px;width:400px;text-align:center;transform:scaleX(0.9350);-webkit-text-stroke:0.3px #26262e;"><span style="margin:0 -1.2px 0 -0.9px">1</span>6<span style="margin:0 -0.5px">.</span>0</div>
<div style="position:absolute;top:214.00px;height:16px;line-height:16px;font-size:12px;color:#26262e;white-space:nowrap;left:164.40px;width:400px;text-align:center;transform:scaleX(0.9350);-webkit-text-stroke:0.3px #26262e;">58<span style="margin:0 -0.5px">.</span>0</div>
<div style="position:absolute;top:214.00px;height:16px;line-height:16px;font-size:12px;color:#26262e;white-space:nowrap;left:217.20px;width:400px;text-align:center;transform:scaleX(0.9350);-webkit-text-stroke:0.3px #26262e;"><span style="margin:0 -1.2px 0 -0.9px">1</span>5<span style="margin:0 -0.5px">.</span>3</div>
<div style="position:absolute;top:214.00px;height:16px;line-height:16px;font-size:12px;color:#26262e;white-space:nowrap;left:268.90px;width:400px;text-align:center;transform:scaleX(0.9350);-webkit-text-stroke:0.3px #26262e;">300</div>
<div style="position:absolute;top:214.00px;height:16px;line-height:16px;font-size:12px;color:#26262e;white-space:nowrap;left:321.30px;width:400px;text-align:center;transform:scaleX(0.9350);-webkit-text-stroke:0.3px #26262e;">4350</div>
<div style="position:absolute;top:214.00px;height:16px;line-height:16px;font-size:12px;color:#26262e;white-space:nowrap;left:373.20px;width:400px;text-align:center;transform:scaleX(0.9350);-webkit-text-stroke:0.3px #26262e;">44<span style="margin:0 -0.5px">.</span>6</div>
<div style="position:absolute;top:214.00px;height:16px;line-height:16px;font-size:12px;color:#26262e;white-space:nowrap;left:425.40px;width:400px;text-align:center;transform:scaleX(0.9350);-webkit-text-stroke:0.3px #26262e;">33<span style="margin:0 -0.5px">.</span>3</div>
<div style="position:absolute;top:214.00px;height:16px;line-height:16px;font-size:12px;color:#26262e;white-space:nowrap;left:479.50px;width:400px;text-align:center;transform:scaleX(0.9350);-webkit-text-stroke:0.3px #26262e;">43<span style="margin:0 -0.5px">.</span>9</div>
<div style="position:absolute;top:236.00px;height:16px;line-height:16px;font-size:12px;color:#26262e;white-space:nowrap;left:-111.50px;width:400px;text-align:center;transform:scaleX(0.9900);-webkit-text-stroke:0.3px #26262e;">880000</div>
<div style="position:absolute;top:236.00px;height:16px;line-height:16px;font-size:12px;color:#26262e;white-space:nowrap;left:-21.50px;width:400px;text-align:center;transform:scaleX(0.7638);-webkit-text-stroke:0.55px #26262e;">PENTA-C 70/200 R</div>
<div style="position:absolute;top:236.00px;height:16px;line-height:16px;font-size:12px;color:#26262e;white-space:nowrap;left:61.10px;width:400px;text-align:center;transform:scaleX(0.9350);-webkit-text-stroke:0.3px #26262e;">75<span style="margin:0 -0.5px">.</span>9</div>
<div style="position:absolute;top:236.00px;height:16px;line-height:16px;font-size:12px;color:#26262e;white-space:nowrap;left:112.60px;width:400px;text-align:center;transform:scaleX(0.9350);-webkit-text-stroke:0.3px #26262e;">20<span style="margin:0 -0.5px">.</span><span style="margin:0 -1.2px 0 -0.9px">1</span></div>
<div style="position:absolute;top:236.00px;height:16px;line-height:16px;font-size:12px;color:#26262e;white-space:nowrap;left:164.40px;width:400px;text-align:center;transform:scaleX(0.9350);-webkit-text-stroke:0.3px #26262e;">7<span style="margin:0 -1.2px 0 -0.9px">1</span><span style="margin:0 -0.5px">.</span>0</div>
<div style="position:absolute;top:236.00px;height:16px;line-height:16px;font-size:12px;color:#26262e;white-space:nowrap;left:217.20px;width:400px;text-align:center;transform:scaleX(0.9350);-webkit-text-stroke:0.3px #26262e;"><span style="margin:0 -1.2px 0 -0.9px">1</span>8<span style="margin:0 -0.5px">.</span>8</div>
<div style="position:absolute;top:236.00px;height:16px;line-height:16px;font-size:12px;color:#26262e;white-space:nowrap;left:268.90px;width:400px;text-align:center;transform:scaleX(0.9350);-webkit-text-stroke:0.3px #26262e;">200</div>
<div style="position:absolute;top:236.00px;height:16px;line-height:16px;font-size:12px;color:#26262e;white-space:nowrap;left:321.30px;width:400px;text-align:center;transform:scaleX(0.9350);-webkit-text-stroke:0.3px #26262e;">2900</div>
<div style="position:absolute;top:236.00px;height:16px;line-height:16px;font-size:12px;color:#26262e;white-space:nowrap;left:373.20px;width:400px;text-align:center;transform:scaleX(0.9350);-webkit-text-stroke:0.3px #26262e;">36<span style="margin:0 -0.5px">.</span>4</div>
<div style="position:absolute;top:236.00px;height:16px;line-height:16px;font-size:12px;color:#26262e;white-space:nowrap;left:425.40px;width:400px;text-align:center;transform:scaleX(0.9350);-webkit-text-stroke:0.3px #26262e;">27<span style="margin:0 -0.5px">.</span>2</div>
<div style="position:absolute;top:236.00px;height:16px;line-height:16px;font-size:12px;color:#26262e;white-space:nowrap;left:479.50px;width:400px;text-align:center;transform:scaleX(0.9350);-webkit-text-stroke:0.3px #26262e;">43<span style="margin:0 -0.5px">.</span>9</div>
<div style="position:absolute;top:119.00px;height:16px;line-height:16px;font-size:12px;color:#26262e;white-space:nowrap;left:-173.00px;width:400px;text-align:center;-webkit-text-stroke:0.3px #26262e;"><span style="margin:0 -1.2px 0 -0.9px">1</span>000</div>
<div style="position:absolute;top:204.00px;height:16px;line-height:16px;font-size:12px;color:#26262e;white-space:nowrap;left:-173.00px;width:400px;text-align:center;-webkit-text-stroke:0.3px #26262e;"><span style="margin:0 -1.2px 0 -0.9px">1</span>450</div>
<div style="position:absolute;top:154.00px;height:14px;line-height:14px;font-size:11.5px;color:#2b2b2b;white-space:nowrap;left:717.30px;transform:scaleX(0.7544);transform-origin:0 50%;-webkit-text-stroke:0.2px #2b2b2b;">R –</div>
<svg style="position:absolute;left:733.60px;top:153.20px;overflow:visible" width="81.55" height="14.95" fill="#2b2b2b"><text class="cjk" x="0.08" y="11.5" font-size="11.5" letter-spacing="0.15" fill="#2b2b2b">右输入轴直径为</text></svg>
<div style="position:absolute;top:154.00px;height:14px;line-height:14px;font-size:11.5px;color:#2b2b2b;white-space:nowrap;left:819.50px;transform:scaleX(0.9759);transform-origin:0 50%;-webkit-text-stroke:0.2px #2b2b2b;">35 mm</div>
<div style="position:absolute;top:170.00px;height:14px;line-height:14px;font-size:11.5px;color:#2b2b2b;white-space:nowrap;font-style:italic;left:717.30px;transform:scaleX(0.8863);transform-origin:0 50%;-webkit-text-stroke:0.2px #2b2b2b;">R – MALE Shaft 35 mm RIGHT</div>
<svg style="position:absolute;left:66.40px;top:260.80px;overflow:visible" width="202.50" height="14.56" fill="#2b2b2b"><text class="cjk" x="0.03" y="11.2" font-size="11.2" letter-spacing="0.05" fill="#2b2b2b">所有型号的水泵均可配置左轴向，例如：</text></svg>
<div style="position:absolute;top:261.00px;height:14px;line-height:14px;font-size:11px;color:#2b2b2b;white-space:nowrap;left:276.00px;transform:scaleX(0.9112);transform-origin:0 50%;-webkit-text-stroke:0.2px #2b2b2b;">PENTA-B 30/300 L</div>
<div style="position:absolute;top:276.00px;height:14px;line-height:14px;font-size:11px;color:#2b2b2b;white-space:nowrap;font-style:italic;left:66.00px;transform:scaleX(0.9000);transform-origin:0 50%;-webkit-text-stroke:0.2px #2b2b2b;">All models of PUMPS are available with Left P.T.O. Shaft (L). Example: PENTA-B 30/300 L</div>
<svg style="position:absolute;left:0;top:0" width="900" height="656"><path d="M0 299H900V350H640.5L628.5 336.6H0Z" fill="#0098da"/><path d="M606 304.5L629.5 336.6" stroke="#5cb8e4" stroke-width="0.8" fill="none"/></svg>
<svg style="position:absolute;left:295.00px;top:308.40px;overflow:visible" width="66.20" height="21.84" fill="#fff"><text class="cjk" x="0" y="16.8" font-size="16.8" font-weight="bold" letter-spacing="-0.25" fill="#fff">外形尺寸</text></svg>
<div style="position:absolute;top:308.00px;height:21px;line-height:21px;font-size:17px;color:#fff;white-space:nowrap;font-weight:bold;left:365.40px;transform:scaleX(0.9289);transform-origin:0 50%;">(mm)</div>
<div style="position:absolute;top:308.00px;height:21px;line-height:21px;font-size:17px;color:#fff;white-space:nowrap;font-weight:bold;left:411.80px;transform:scaleX(0.9715);transform-origin:0 50%;">-</div>
<div style="position:absolute;top:310.00px;height:21px;line-height:21px;font-size:17px;color:#fff;white-space:nowrap;font-style:italic;left:427.30px;transform:scaleX(0.9059);transform-origin:0 50%;">Overall Dimensions (mm)</div>
<div style="position:absolute;top:300.00px;height:41px;line-height:41px;font-size:35px;color:#fff;white-space:nowrap;left:646.50px;transform:scaleX(0.8869);transform-origin:0 50%;text-shadow:2px 2px 2.5px rgba(0,25,55,.8);-webkit-text-stroke:0.4px #fff;">+V+ jingkehuamei</div>
<svg style="position:absolute;left:0;top:0" width="900" height="656" viewBox="0 0 900 656" fill="none" stroke="#000">
<style>.d{font:italic 8.2px "Liberation Sans",sans-serif;text-anchor:middle;fill:#000;stroke:#000;stroke-width:.38px}</style>
<path d="M162.5 390.5L311 390.5" stroke-width="1.16" />
<path d="M162.50 390.50L166.70 389.60L166.70 391.40Z" fill="#000" stroke="none"/>
<path d="M203.70 390.50L199.50 391.40L199.50 389.60Z" fill="#000" stroke="none"/>
<path d="M203.70 390.50L207.90 389.60L207.90 391.40Z" fill="#000" stroke="none"/>
<path d="M311.00 390.50L306.80 391.40L306.80 389.60Z" fill="#000" stroke="none"/>
<path d="M194 402L311 402" stroke-width="1.16" />
<path d="M203.70 402.00L207.90 401.10L207.90 402.90Z" fill="#000" stroke="none"/>
<path d="M213.20 402.00L209.00 402.90L209.00 401.10Z" fill="#000" stroke="none"/>
<path d="M213.20 402.00L217.40 401.10L217.40 402.90Z" fill="#000" stroke="none"/>
<path d="M311.00 402.00L306.80 402.90L306.80 401.10Z" fill="#000" stroke="none"/>
<path d="M139 413.5L357 413.5" stroke-width="1.16" />
<path d="M139 543.5L408 543.5" stroke-width="1.45" />
<path d="M139.5 413.5L139.5 543.5" stroke-width="1.16" />
<path d="M139.50 413.50L140.40 417.70L138.60 417.70Z" fill="#000" stroke="none"/>
<path d="M139.50 543.50L138.60 539.30L140.40 539.30Z" fill="#000" stroke="none"/>
<path d="M151.6 413.5L151.6 543.5" stroke-width="1.16" />
<path d="M151.60 413.50L152.50 417.70L150.70 417.70Z" fill="#000" stroke="none"/>
<path d="M151.60 480.20L150.70 476.00L152.50 476.00Z" fill="#000" stroke="none"/>
<path d="M151.60 480.20L152.50 484.40L150.70 484.40Z" fill="#000" stroke="none"/>
<path d="M151.60 543.50L150.70 539.30L152.50 539.30Z" fill="#000" stroke="none"/>
<path d="M151.6 480.2L250 480.2" stroke-width="1.01" />
<path d="M162.5 388L162.5 628.5" stroke-width="1.59" />
<path d="M203.7 388L203.7 472" stroke-width="1.01" />
<path d="M213.2 399L213.2 527" stroke-width="1.01" />
<path d="M311 388L311 436" stroke-width="1.16" />
<path d="M311 524L311 572" stroke-width="1.45" />
<path d="M311 583L311 617" stroke-width="1.45" stroke-dasharray="7 4.6"/>
<path d="M393.3 470L393.3 628.5" stroke-width="1.59" />
<path d="M219.6 530L219.6 604" stroke-width="1.59" />
<path d="M230.3 530L230.3 592" stroke-width="1.59" />
<path d="M250.3 518L250.3 580.6" stroke-width="1.3" />
<path d="M342.7 518L342.7 592" stroke-width="1.3" />
<path d="M352.4 538L352.4 604" stroke-width="1.45" />
<path d="M389.7 524.5L408 524.5" stroke-width="1.16" />
<path d="M407.6 524.5L407.6 543.5" stroke-width="1.16" />
<path d="M407.60 524.50L408.50 528.70L406.70 528.70Z" fill="#000" stroke="none"/>
<path d="M407.60 543.50L406.70 539.30L408.50 539.30Z" fill="#000" stroke="none"/>
<path d="M205 569.6L369 569.6" stroke-width="1.16" />
<path d="M219.60 569.60L223.80 568.70L223.80 570.50Z" fill="#000" stroke="none"/>
<path d="M230.30 569.60L226.10 570.50L226.10 568.70Z" fill="#000" stroke="none"/>
<path d="M230.30 569.60L234.50 568.70L234.50 570.50Z" fill="#000" stroke="none"/>
<path d="M250.30 569.60L246.10 570.50L246.10 568.70Z" fill="#000" stroke="none"/>
<path d="M250.30 569.60L254.50 568.70L254.50 570.50Z" fill="#000" stroke="none"/>
<path d="M311.00 569.60L306.80 570.50L306.80 568.70Z" fill="#000" stroke="none"/>
<path d="M311.00 569.60L315.20 568.70L315.20 570.50Z" fill="#000" stroke="none"/>
<path d="M342.70 569.60L338.50 570.50L338.50 568.70Z" fill="#000" stroke="none"/>
<path d="M342.70 569.60L346.90 568.70L346.90 570.50Z" fill="#000" stroke="none"/>
<path d="M352.40 569.60L348.20 570.50L348.20 568.70Z" fill="#000" stroke="none"/>
<path d="M250.3 580.6L342.7 580.6" stroke-width="1.16" />
<path d="M250.30 580.60L254.50 579.70L254.50 581.50Z" fill="#000" stroke="none"/>
<path d="M342.70 580.60L338.50 581.50L338.50 579.70Z" fill="#000" stroke="none"/>
<path d="M162.5 592L393.3 592" stroke-width="1.16" />
<path d="M162.50 592.00L166.70 591.10L166.70 592.90Z" fill="#000" stroke="none"/>
<path d="M230.30 592.00L226.10 592.90L226.10 591.10Z" fill="#000" stroke="none"/>
<path d="M230.30 592.00L234.50 591.10L234.50 592.90Z" fill="#000" stroke="none"/>
<path d="M342.70 592.00L338.50 592.90L338.50 591.10Z" fill="#000" stroke="none"/>
<path d="M342.70 592.00L346.90 591.10L346.90 592.90Z" fill="#000" stroke="none"/>
<path d="M393.30 592.00L389.10 592.90L389.10 591.10Z" fill="#000" stroke="none"/>
<path d="M162.5 603.7L393.3 603.7" stroke-width="1.16" />
<path d="M162.50 603.70L166.70 602.80L166.70 604.60Z" fill="#000" stroke="none"/>
<path d="M219.60 603.70L215.40 604.60L215.40 602.80Z" fill="#000" stroke="none"/>
<path d="M219.60 603.70L223.80 602.80L223.80 604.60Z" fill="#000" stroke="none"/>
<path d="M352.40 603.70L348.20 604.60L348.20 602.80Z" fill="#000" stroke="none"/>
<path d="M352.40 603.70L356.60 602.80L356.60 604.60Z" fill="#000" stroke="none"/>
<path d="M393.30 603.70L389.10 604.60L389.10 602.80Z" fill="#000" stroke="none"/>
<path d="M214 603.7L225 603.7" stroke-width="2.9" />
<path d="M347 603.7L358 603.7" stroke-width="2.9" />
<path d="M162.5 615.4L393.3 615.4" stroke-width="1.16" />
<path d="M162.50 615.40L166.70 614.50L166.70 616.30Z" fill="#000" stroke="none"/>
<path d="M311.00 615.40L306.80 616.30L306.80 614.50Z" fill="#000" stroke="none"/>
<path d="M311.00 615.40L315.20 614.50L315.20 616.30Z" fill="#000" stroke="none"/>
<path d="M393.30 615.40L389.10 616.30L389.10 614.50Z" fill="#000" stroke="none"/>
<path d="M162.5 626.8L393.3 626.8" stroke-width="1.16" />
<path d="M162.50 626.80L166.70 625.90L166.70 627.70Z" fill="#000" stroke="none"/>
<path d="M393.30 626.80L389.10 627.70L389.10 625.90Z" fill="#000" stroke="none"/>
<path d="M334 557.4L378 557.4" stroke-width="1.16" />
<path d="M334 387.4L323.9 430" stroke-width="1.16" />
<path d="M365.6 378.2L343 450.4" stroke-width="1.16" />
<text class="d" transform="translate(183 386) scale(0.9 1)" y="2.95">70</text>
<text class="d" transform="translate(254.3 386) scale(0.9 1)" y="2.95">186,5</text>
<text class="d" transform="translate(209.2 397.4) scale(0.9 1)" y="2.95">17</text>
<text class="d" transform="translate(262 397.4) scale(0.9 1)" y="2.95">169,5</text>
<text class="d" transform="translate(135.1 479.7) rotate(-90) scale(0.9 1)" y="2.95">226</text>
<text class="d" transform="translate(146.8 444.6) rotate(-90) scale(0.9 1)" y="2.95">116</text>
<text class="d" transform="translate(146.8 513) rotate(-90) scale(0.9 1)" y="2.95">110</text>
<text class="d" transform="translate(211.7 565.2) scale(0.9 1)" y="2.95">17,5</text>
<text class="d" transform="translate(241.2 565.2) scale(0.9 1)" y="2.95">35</text>
<text class="d" transform="translate(280.8 565.2) scale(0.9 1)" y="2.95">105</text>
<text class="d" transform="translate(327.9 565.2) scale(0.9 1)" y="2.95">55</text>
<text class="d" transform="translate(362.3 565.2) scale(0.9 1)" y="2.95">17,5</text>
<text class="d" transform="translate(296.8 576.2) scale(0.9 1)" y="2.95">160</text>
<text class="d" transform="translate(199.3 587.6) scale(0.9 1)" y="2.95">116,5</text>
<text class="d" transform="translate(286.8 587.6) scale(0.9 1)" y="2.95">195</text>
<text class="d" transform="translate(367.5 587.6) scale(0.9 1)" y="2.95">87</text>
<text class="d" transform="translate(194 599.3) scale(0.9 1)" y="2.95">99</text>
<text class="d" transform="translate(291.8 599.3) scale(0.9 1)" y="2.95">230</text>
<text class="d" transform="translate(371.8 599.3) scale(0.9 1)" y="2.95">69,5</text>
<text class="d" transform="translate(233 610.9) scale(0.9 1)" y="2.95">256,5</text>
<text class="d" transform="translate(351 610.9) scale(0.9 1)" y="2.95">142</text>
<text class="d" transform="translate(283 622.2) scale(0.9 1)" y="2.95">398,5</text>
<text class="d" transform="translate(363.7 553.2) scale(0.9 1)" y="2.95">N°6 M14</text>
<text class="d" transform="translate(404 534) rotate(-90) scale(0.9 1)" y="2.95">32</text>
<text class="d" transform="translate(327.4 394.5) rotate(-76.7) scale(0.9 1)" y="2.95">ø 122</text>
<text class="d" transform="translate(358.4 391.5) rotate(-72.6) scale(0.9 1)" y="2.95">N°6 M10</text>
<circle cx="254.5" cy="425.3" r="11.3" stroke-width="1.59" fill="#fff" />
<circle cx="254.5" cy="425.3" r="6.6" stroke-width="1.59" fill="none" />
<path d="M240 425.3L269 425.3" stroke-width="0.87" />
<path d="M254.5 410.5L254.5 441" stroke-width="0.87" />
<rect x="249.5" y="436.3" width="10" height="4.7" stroke-width="1.3" fill="#fff" />
<path d="M229 444.8L285 431C297 427.5 305 424.5 321.3 420.3L358.8 420.5C368 423 375 426 380.9 428.2C386 429.5 388 432 389.2 436C391.5 445 393 455 393.3 470L393.3 492C393 504 392 512 390.7 518C389.5 523 388 525.5 385 526.8C376 530 367 532 358.8 533.2L351 531L350 505" stroke-width="1.74" fill="none" />
<path d="M232 447L285 434C300 430 312 426.5 322 423.5L357 423.5C366 425.5 374 428.5 379 430.5C384 432 386 434.5 387 438.5C388 452 389 462 389 478C389 496 388 508 386 517C385 521 383 523 380 524" stroke-width="1.16" fill="none" />
<path d="M358.8 421L358.8 532.5" stroke-width="1.3" />
<path d="M363.2 422L363.2 531.5" stroke-width="1.3" />
<path d="M377.6 432L377.6 526" stroke-width="1.16" />
<path d="M381.8 434L381.8 525" stroke-width="1.16" />
<path d="M393.3 479.7L397 479.7" stroke-width="1.01" />
<rect x="339.6" y="413.5" width="17.9" height="7" stroke-width="1.45" fill="#fff" />
<path d="M342.5 414L342.5 420.3" stroke-width="1.3" />
<path d="M344.5 414L344.5 420.3" stroke-width="1.3" />
<path d="M347 414L347 420.3" stroke-width="1.3" />
<path d="M349 414L349 420.3" stroke-width="1.3" />
<path d="M351.5 414L351.5 420.3" stroke-width="1.3" />
<path d="M354 414L354 420.3" stroke-width="1.3" />
<rect x="185" y="430" width="17.5" height="6" stroke-width="1.45" fill="#fff" />
<path d="M193.5 430L193.5 436" stroke-width="1.16" />
<path d="M182 436L205 436L205 442.5L229.6 444L229.6 495.6L182 495.6Z" stroke-width="1.59" fill="#fff" />
<path d="M182 476L229 476" stroke-width="1.3" />
<path d="M182 481L229 481" stroke-width="1.3" />
<path d="M182 450L193 450" stroke-width="1.16" />
<path d="M182 456L192 456" stroke-width="1.16" />
<rect x="174.5" y="444.8" width="5.5" height="11.1" stroke-width="1.59" fill="#fff" />
<path d="M180 448.15L182 448.15" stroke-width="1.16" />
<path d="M180 452.55L182 452.55" stroke-width="1.16" />
<path d="M177 444.8L177 455.9" stroke-width="1.01" />
<rect x="174.5" y="469" width="5.5" height="10" stroke-width="1.59" fill="#fff" />
<path d="M180 471.8L182 471.8" stroke-width="1.16" />
<path d="M180 476.2L182 476.2" stroke-width="1.16" />
<path d="M177 469L177 479" stroke-width="1.01" />
<rect x="174.5" y="483.5" width="5.5" height="9.9" stroke-width="1.59" fill="#fff" />
<path d="M180 486.25L182 486.25" stroke-width="1.16" />
<path d="M180 490.65L182 490.65" stroke-width="1.16" />
<path d="M177 483.5L177 493.4" stroke-width="1.01" />
<path d="M192.5 447.5C195 443.8 198 442.6 203 442.6L205 442.6" stroke-width="1.45" fill="none" />
<circle cx="203.2" cy="460.3" r="10.5" stroke-width="1.59" fill="#fff" />
<circle cx="203.2" cy="460.3" r="9.2" stroke-width="1.01" fill="none" />
<path d="M209.87 464.15L203.20 468.00L196.53 464.15L196.53 456.45L203.20 452.60L209.87 456.45Z" stroke-width="1.59" fill="none" />
<circle cx="203.2" cy="460.3" r="4.4" stroke-width="1.74" fill="none" />
<circle cx="203.2" cy="460.3" r="2.4" stroke-width="1.3" fill="none" />
<path d="M188 460.3L222 460.3" stroke-width="0.87" />
<rect x="163.8" y="493.4" width="5.2" height="23.9" stroke-width="1.59" fill="#fff" />
<path d="M169 496L185 496L196 492M169 515L185 515L198 520" stroke-width="1.45" fill="none" />
<path d="M172 497.5L172 514" stroke-width="1.16" />
<path d="M159 506.3L236 506.3" stroke-width="0.87" />
<circle cx="212.9" cy="506.3" r="16.2" stroke-width="1.74" fill="#fff" />
<circle cx="212.9" cy="506.3" r="14.4" stroke-width="1.16" fill="none" />
<path d="M225.50 506.30L219.20 517.21L206.60 517.21L200.30 506.30L206.60 495.39L219.20 495.39Z" stroke-width="1.59" fill="none" />
<path d="M190 506.3L236 506.3" stroke-width="0.87" />
<rect x="232.4" y="457.6" width="156.2" height="5.4" stroke-width="0" fill="#000" stroke="none"/>
<path d="M232.4 455.6L275 455.6" stroke-width="1.16" />
<path d="M232.4 465L275 465" stroke-width="1.16" />
<path d="M350 455.6L388 455.6" stroke-width="1.16" />
<path d="M350 465L388 465" stroke-width="1.16" />
<rect x="232.4" y="476.9" width="156.2" height="5.6" stroke-width="0" fill="#000" stroke="none"/>
<path d="M232.4 474.9L275 474.9" stroke-width="1.16" />
<path d="M232.4 484.5L275 484.5" stroke-width="1.16" />
<path d="M350 474.9L388 474.9" stroke-width="1.16" />
<path d="M350 484.5L388 484.5" stroke-width="1.16" />
<rect x="232.4" y="496.2" width="156.2" height="5.8" stroke-width="0" fill="#000" stroke="none"/>
<path d="M232.4 494.2L275 494.2" stroke-width="1.16" />
<path d="M232.4 504L275 504" stroke-width="1.16" />
<path d="M350 494.2L388 494.2" stroke-width="1.16" />
<path d="M350 504L388 504" stroke-width="1.16" />
<path d="M229 452L232.4 452" stroke-width="1.16" />
<path d="M232.4 453L232.4 506" stroke-width="1.3" />
<path d="M236.5 453L236.5 506" stroke-width="1.3" />
<path d="M246.5 453L246.5 506" stroke-width="1.3" />
<path d="M250.5 453L250.5 506" stroke-width="1.3" />
<rect x="246.5" y="466" width="4" height="8" stroke-width="0" fill="#000" stroke="none"/>
<rect x="246.5" y="485" width="4" height="8" stroke-width="0" fill="#000" stroke="none"/>
<rect x="232.4" y="502" width="26.6" height="41.5" stroke-width="1.45" fill="#fff" />
<path d="M234.6 502L234.6 543.5" stroke-width="2.32" />
<path d="M237.6 502L237.6 543.5" stroke-width="1.74" />
<path d="M245.6 502L245.6 543.5" stroke-width="1.74" />
<path d="M256.8 502L256.8 543.5" stroke-width="1.74" />
<path d="M219.6 543.5L219.6 530L226 530L228 526L232.4 526" stroke-width="1.45" fill="none" />
<path d="M223 530L223 543.5" stroke-width="1.16" />
<path d="M226.5 530L226.5 543.5" stroke-width="1.16" />
<path d="M248.6 543.5L248.6 523L250.4 519.5L252.2 523L252.2 543.5" stroke-width="1.16" fill="none" />
<path d="M259 537.5L262 537.5L262 532L330 532L332.3 537.5L337.8 537.5" stroke-width="1.45" fill="none" />
<path d="M259 509L275 509" stroke-width="1.3" />
<path d="M332.3 543.5L332.3 537.5M337.8 543.5L337.8 524L347.8 524L347.8 543.5" stroke-width="1.45" fill="none" />
<path d="M340.9 543.5L340.9 522.5L342.7 519L344.5 522.5L344.5 543.5" stroke-width="1.16" fill="none" />
<path d="M352.2 540.9L352.2 536.4L358.8 536.4" stroke-width="1.3" fill="none" />
<rect x="291.4" y="429.7" width="8.9" height="15.3" stroke-width="0" fill="#000" stroke="none"/>
<rect x="291.4" y="515" width="8.9" height="24.7" stroke-width="0" fill="#000" stroke="none"/>
<path d="M295.85 430L295.85 445" stroke-width="0.87" stroke="#bbb"/>
<path d="M295.85 518L295.85 539" stroke-width="0.87" stroke="#bbb"/>
<rect x="306.2" y="429.7" width="8.9" height="15.3" stroke-width="0" fill="#000" stroke="none"/>
<rect x="306.2" y="515" width="8.9" height="24.7" stroke-width="0" fill="#000" stroke="none"/>
<path d="M310.65 430L310.65 445" stroke-width="0.87" stroke="#bbb"/>
<path d="M310.65 518L310.65 539" stroke-width="0.87" stroke="#bbb"/>
<rect x="321.3" y="429.7" width="8.4" height="15.3" stroke-width="0" fill="#000" stroke="none"/>
<rect x="321.3" y="515" width="8.4" height="24.7" stroke-width="0" fill="#000" stroke="none"/>
<path d="M325.5 430L325.5 445" stroke-width="0.87" stroke="#bbb"/>
<path d="M325.5 518L325.5 539" stroke-width="0.87" stroke="#bbb"/>
<circle cx="310.9" cy="479.7" r="42.3" stroke-width="2.17" fill="#fff" />
<circle cx="310.9" cy="479.7" r="40.2" stroke-width="1.3" fill="none" />
<circle cx="310.9" cy="479.7" r="28.4" stroke-width="4.06" fill="none" />
<circle cx="310.9" cy="445.2" r="4.3" stroke-width="1.45" fill="#fff" />
<path d="M306.6 445.2L315.2 445.2" stroke-width="0.725" />
<path d="M310.9 440.9L310.9 449.5" stroke-width="0.725" />
<circle cx="340.778" cy="462.45" r="4.3" stroke-width="1.45" fill="#fff" />
<path d="M336.478 462.45L345.078 462.45" stroke-width="0.725" />
<path d="M340.778 458.15L340.778 466.75" stroke-width="0.725" />
<circle cx="340.778" cy="496.95" r="4.3" stroke-width="1.45" fill="#fff" />
<path d="M336.478 496.95L345.078 496.95" stroke-width="0.725" />
<path d="M340.778 492.65L340.778 501.25" stroke-width="0.725" />
<circle cx="310.9" cy="514.2" r="4.3" stroke-width="1.45" fill="#fff" />
<path d="M306.6 514.2L315.2 514.2" stroke-width="0.725" />
<path d="M310.9 509.9L310.9 518.5" stroke-width="0.725" />
<circle cx="281.022" cy="496.95" r="4.3" stroke-width="1.45" fill="#fff" />
<path d="M276.722 496.95L285.322 496.95" stroke-width="0.725" />
<path d="M281.022 492.65L281.022 501.25" stroke-width="0.725" />
<circle cx="281.022" cy="462.45" r="4.3" stroke-width="1.45" fill="#fff" />
<path d="M276.722 462.45L285.322 462.45" stroke-width="0.725" />
<path d="M281.022 458.15L281.022 466.75" stroke-width="0.725" />
<circle cx="343.1" cy="479.7" r="2.3" stroke-width="1.3" fill="#fff" />
<circle cx="333.669" cy="456.931" r="2.3" stroke-width="1.3" fill="#fff" />
<circle cx="288.131" cy="456.931" r="2.3" stroke-width="1.3" fill="#fff" />
<circle cx="278.7" cy="479.7" r="2.3" stroke-width="1.3" fill="#fff" />
<circle cx="288.131" cy="502.469" r="2.3" stroke-width="1.3" fill="#fff" />
<circle cx="333.669" cy="502.469" r="2.3" stroke-width="1.3" fill="#fff" />
<path d="M340.91 475.48L348.73 474.38A38.2 38.2 0 0 0 346.56 466.01L339.19 468.84A30.3 30.3 0 0 1 340.91 475.48Z" stroke-width="0" fill="#000" stroke="none"/>
<path d="M343.02 473.05L346.35 472.36A36.2 36.2 0 0 0 345.46 468.94L342.22 469.95A32.8 32.8 0 0 1 343.02 473.05Z" stroke-width="0" fill="#fff" stroke="none"/>
<path d="M339.19 490.56L346.56 493.39A38.2 38.2 0 0 0 348.73 485.02L340.91 483.92A30.3 30.3 0 0 1 339.19 490.56Z" stroke-width="0" fill="#000" stroke="none"/>
<path d="M342.22 489.45L345.46 490.46A36.2 36.2 0 0 0 346.35 487.04L343.02 486.35A32.8 32.8 0 0 1 342.22 489.45Z" stroke-width="0" fill="#fff" stroke="none"/>
<path d="M282.61 468.84L275.24 466.01A38.2 38.2 0 0 0 273.07 474.38L280.89 475.48A30.3 30.3 0 0 1 282.61 468.84Z" stroke-width="0" fill="#000" stroke="none"/>
<path d="M279.58 469.95L276.34 468.94A36.2 36.2 0 0 0 275.45 472.36L278.78 473.05A32.8 32.8 0 0 1 279.58 469.95Z" stroke-width="0" fill="#fff" stroke="none"/>
<path d="M280.89 483.92L273.07 485.02A38.2 38.2 0 0 0 275.24 493.39L282.61 490.56A30.3 30.3 0 0 1 280.89 483.92Z" stroke-width="0" fill="#000" stroke="none"/>
<path d="M278.78 486.35L275.45 487.04A36.2 36.2 0 0 0 276.34 490.46L279.58 489.45A32.8 32.8 0 0 1 278.78 486.35Z" stroke-width="0" fill="#fff" stroke="none"/>
<path d="M327.18 454.15L331.42 447.48A38.2 38.2 0 0 0 323.65 443.69L321.01 451.14A30.3 30.3 0 0 1 327.18 454.15Z" stroke-width="0" fill="#000" stroke="none"/>
<path d="M326.70 450.96L328.34 447.98A36.2 36.2 0 0 0 325.16 446.43L323.82 449.55A32.8 32.8 0 0 1 326.70 450.96Z" stroke-width="0" fill="#fff" stroke="none"/>
<path d="M293.30 504.37L288.72 510.80A38.2 38.2 0 0 0 296.28 514.99L299.30 507.69A30.3 30.3 0 0 1 293.30 504.37Z" stroke-width="0" fill="#000" stroke="none"/>
<path d="M293.62 507.58L291.82 510.47A36.2 36.2 0 0 0 294.92 512.18L296.42 509.13A32.8 32.8 0 0 1 293.62 507.58Z" stroke-width="0" fill="#fff" stroke="none"/>
<path d="M304.43 449.79L302.87 442.56A38 38 0 0 0 289.00 448.65L293.26 454.70A30.6 30.6 0 0 1 304.43 449.79Z" stroke-width="0" fill="#000" stroke="none"/>
<path d="M302.02 448.12L301.16 445.04A36 36 0 0 0 291.98 449.07L293.66 451.79A32.8 32.8 0 0 1 302.02 448.12Z" stroke-width="0" fill="#fff" stroke="none"/>
<path d="M315.16 510.00L316.19 517.33A38 38 0 0 0 330.47 512.27L326.66 505.93A30.6 30.6 0 0 1 315.16 510.00Z" stroke-width="0" fill="#000" stroke="none"/>
<path d="M317.44 511.84L318.08 514.98A36 36 0 0 0 327.52 511.63L326.05 508.79A32.8 32.8 0 0 1 317.44 511.84Z" stroke-width="0" fill="#fff" stroke="none"/>
<path d="M327.65 478.38L337.22 477.63A26.4 26.4 0 0 0 334.73 468.33L326.06 472.47A16.8 16.8 0 0 1 327.65 478.38Z" stroke-width="0" fill="#000" stroke="none"/>
<path d="M331.15 475.91L334.69 475.25A24.2 24.2 0 0 0 333.73 471.66L330.33 472.86A20.6 20.6 0 0 1 331.15 475.91Z" stroke-width="0" fill="#fff" stroke="none"/>
<path d="M324.75 470.18L332.66 464.75A26.4 26.4 0 0 0 325.85 457.94L320.42 465.85A16.8 16.8 0 0 1 324.75 470.18Z" stroke-width="0" fill="#000" stroke="none"/>
<path d="M326.54 466.29L329.27 463.95A24.2 24.2 0 0 0 326.65 461.33L324.31 464.06A20.6 20.6 0 0 1 326.54 466.29Z" stroke-width="0" fill="#fff" stroke="none"/>
<path d="M318.13 464.54L322.27 455.87A26.4 26.4 0 0 0 312.97 453.38L312.22 462.95A16.8 16.8 0 0 1 318.13 464.54Z" stroke-width="0" fill="#000" stroke="none"/>
<path d="M317.74 460.27L318.94 456.87A24.2 24.2 0 0 0 315.35 455.91L314.69 459.45A20.6 20.6 0 0 1 317.74 460.27Z" stroke-width="0" fill="#fff" stroke="none"/>
<path d="M309.58 462.95L308.83 453.38A26.4 26.4 0 0 0 299.53 455.87L303.67 464.54A16.8 16.8 0 0 1 309.58 462.95Z" stroke-width="0" fill="#000" stroke="none"/>
<path d="M307.11 459.45L306.45 455.91A24.2 24.2 0 0 0 302.86 456.87L304.06 460.27A20.6 20.6 0 0 1 307.11 459.45Z" stroke-width="0" fill="#fff" stroke="none"/>
<path d="M301.38 465.85L295.95 457.94A26.4 26.4 0 0 0 289.14 464.75L297.05 470.18A16.8 16.8 0 0 1 301.38 465.85Z" stroke-width="0" fill="#000" stroke="none"/>
<path d="M297.49 464.06L295.15 461.33A24.2 24.2 0 0 0 292.53 463.95L295.26 466.29A20.6 20.6 0 0 1 297.49 464.06Z" stroke-width="0" fill="#fff" stroke="none"/>
<path d="M295.74 472.47L287.07 468.33A26.4 26.4 0 0 0 284.58 477.63L294.15 478.38A16.8 16.8 0 0 1 295.74 472.47Z" stroke-width="0" fill="#000" stroke="none"/>
<path d="M291.47 472.86L288.07 471.66A24.2 24.2 0 0 0 287.11 475.25L290.65 475.91A20.6 20.6 0 0 1 291.47 472.86Z" stroke-width="0" fill="#fff" stroke="none"/>
<path d="M294.15 481.02L284.58 481.77A26.4 26.4 0 0 0 287.07 491.07L295.74 486.93A16.8 16.8 0 0 1 294.15 481.02Z" stroke-width="0" fill="#000" stroke="none"/>
<path d="M290.65 483.49L287.11 484.15A24.2 24.2 0 0 0 288.07 487.74L291.47 486.54A20.6 20.6 0 0 1 290.65 483.49Z" stroke-width="0" fill="#fff" stroke="none"/>
<path d="M297.05 489.22L289.14 494.65A26.4 26.4 0 0 0 295.95 501.46L301.38 493.55A16.8 16.8 0 0 1 297.05 489.22Z" stroke-width="0" fill="#000" stroke="none"/>
<path d="M295.26 493.11L292.53 495.45A24.2 24.2 0 0 0 295.15 498.07L297.49 495.34A20.6 20.6 0 0 1 295.26 493.11Z" stroke-width="0" fill="#fff" stroke="none"/>
<path d="M303.67 494.86L299.53 503.53A26.4 26.4 0 0 0 308.83 506.02L309.58 496.45A16.8 16.8 0 0 1 303.67 494.86Z" stroke-width="0" fill="#000" stroke="none"/>
<path d="M304.06 499.13L302.86 502.53A24.2 24.2 0 0 0 306.45 503.49L307.11 499.95A20.6 20.6 0 0 1 304.06 499.13Z" stroke-width="0" fill="#fff" stroke="none"/>
<path d="M312.22 496.45L312.97 506.02A26.4 26.4 0 0 0 322.27 503.53L318.13 494.86A16.8 16.8 0 0 1 312.22 496.45Z" stroke-width="0" fill="#000" stroke="none"/>
<path d="M314.69 499.95L315.35 503.49A24.2 24.2 0 0 0 318.94 502.53L317.74 499.13A20.6 20.6 0 0 1 314.69 499.95Z" stroke-width="0" fill="#fff" stroke="none"/>
<path d="M320.42 493.55L325.85 501.46A26.4 26.4 0 0 0 332.66 494.65L324.75 489.22A16.8 16.8 0 0 1 320.42 493.55Z" stroke-width="0" fill="#000" stroke="none"/>
<path d="M324.31 495.34L326.65 498.07A24.2 24.2 0 0 0 329.27 495.45L326.54 493.11A20.6 20.6 0 0 1 324.31 495.34Z" stroke-width="0" fill="#fff" stroke="none"/>
<path d="M326.06 486.93L334.73 491.07A26.4 26.4 0 0 0 337.22 481.77L327.65 481.02A16.8 16.8 0 0 1 326.06 486.93Z" stroke-width="0" fill="#000" stroke="none"/>
<path d="M330.33 486.54L333.73 487.74A24.2 24.2 0 0 0 334.69 484.15L331.15 483.49A20.6 20.6 0 0 1 330.33 486.54Z" stroke-width="0" fill="#fff" stroke="none"/>
<circle cx="310.9" cy="479.7" r="14.2" stroke-width="3.19" fill="#fff" />
<circle cx="310.9" cy="479.7" r="11.2" stroke-width="1.45" fill="none" />
<circle cx="310.9" cy="479.7" r="8" stroke-width="2.32" fill="none" />
<circle cx="310.9" cy="479.7" r="5.2" stroke-width="1.3" fill="none" />
<circle cx="310.9" cy="479.7" r="2.6" stroke-width="1.74" fill="none" />
<path d="M316.3 479.7L322.3 479.7" stroke-width="1.01" />
<path d="M314.718 483.518L318.961 487.761" stroke-width="1.01" />
<path d="M310.9 485.1L310.9 491.1" stroke-width="1.01" />
<path d="M307.082 483.518L302.839 487.761" stroke-width="1.01" />
<path d="M305.5 479.7L299.5 479.7" stroke-width="1.01" />
<path d="M307.082 475.882L302.839 471.639" stroke-width="1.01" />
<path d="M310.9 474.3L310.9 468.3" stroke-width="1.01" />
<path d="M314.718 475.882L318.961 471.639" stroke-width="1.01" />
<path d="M264.9 479.7L356.9 479.7" stroke-width="0.725" />
<path d="M310.9 435.7L310.9 523.7" stroke-width="0.725" />
<path d="M489.4 390.5L567.5 390.5" stroke-width="1.16" />
<path d="M489.40 390.50L493.60 389.60L493.60 391.40Z" fill="#000" stroke="none"/>
<path d="M567.50 390.50L563.30 391.40L563.30 389.60Z" fill="#000" stroke="none"/>
<path d="M663.3 390.5L710.7 390.5" stroke-width="1.16" />
<path d="M663.30 390.50L667.50 389.60L667.50 391.40Z" fill="#000" stroke="none"/>
<path d="M710.70 390.50L706.50 391.40L706.50 389.60Z" fill="#000" stroke="none"/>
<path d="M480.3 402L509 402" stroke-width="1.16" />
<path d="M489.40 402.00L493.60 401.10L493.60 402.90Z" fill="#000" stroke="none"/>
<path d="M499.50 402.00L495.30 402.90L495.30 401.10Z" fill="#000" stroke="none"/>
<path d="M653.3 402L719.6 402" stroke-width="1.16" />
<path d="M663.30 402.00L659.10 402.90L659.10 401.10Z" fill="#000" stroke="none"/>
<path d="M666.70 402.00L670.90 401.10L670.90 402.90Z" fill="#000" stroke="none"/>
<path d="M666.70 402.00L670.90 401.10L670.90 402.90Z" fill="#000" stroke="none"/>
<path d="M708.40 402.00L704.20 402.90L704.20 401.10Z" fill="#000" stroke="none"/>
<path d="M708.40 402.00L704.20 402.90L704.20 401.10Z" fill="#000" stroke="none"/>
<path d="M710.70 402.00L714.90 401.10L714.90 402.90Z" fill="#000" stroke="none"/>
<path d="M436.5 413.5L576.3 413.5" stroke-width="1.16" />
<path d="M425.3 460.1L476 460.1" stroke-width="1.01" />
<path d="M448 479.7L485 479.7" stroke-width="1.01" />
<path d="M436.9 506.6L476 506.6" stroke-width="1.01" />
<path d="M425 543.5L499 543.5" stroke-width="1.45" />
<path d="M425.3 460.1L425.3 543.5" stroke-width="1.16" />
<path d="M425.30 460.10L426.20 464.30L424.40 464.30Z" fill="#000" stroke="none"/>
<path d="M425.30 543.50L424.40 539.30L426.20 539.30Z" fill="#000" stroke="none"/>
<path d="M436.7 413.5L436.7 543.5" stroke-width="1.16" />
<path d="M436.70 413.50L437.60 417.70L435.80 417.70Z" fill="#000" stroke="none"/>
<path d="M436.70 460.10L435.80 455.90L437.60 455.90Z" fill="#000" stroke="none"/>
<path d="M436.70 460.10L437.60 464.30L435.80 464.30Z" fill="#000" stroke="none"/>
<path d="M436.70 506.60L435.80 502.40L437.60 502.40Z" fill="#000" stroke="none"/>
<path d="M436.70 506.60L437.60 510.80L435.80 510.80Z" fill="#000" stroke="none"/>
<path d="M436.70 543.50L435.80 539.30L437.60 539.30Z" fill="#000" stroke="none"/>
<path d="M448.6 460.1L448.6 506.6" stroke-width="1.16" />
<path d="M448.60 460.10L449.50 464.30L447.70 464.30Z" fill="#000" stroke="none"/>
<path d="M448.60 479.70L447.70 475.50L449.50 475.50Z" fill="#000" stroke="none"/>
<path d="M448.60 479.70L449.50 483.90L447.70 483.90Z" fill="#000" stroke="none"/>
<path d="M448.60 506.60L447.70 502.40L449.50 502.40Z" fill="#000" stroke="none"/>
<path d="M490 452.6L460.2 452.6L460.2 468.2L490 468.2" stroke-width="1.16" fill="none" />
<path d="M490 494.1L459.3 494.1L459.3 519L490 519" stroke-width="1.16" fill="none" />
<path d="M463.9 460.1L467.5 456.8L471.1 460.1L467.5 463.40000000000003Z" stroke-width="0.725" fill="#000" />
<path d="M460.5 460.1L464.5 460.1" stroke-width="2.61" />
<path d="M463.0 506.6L466.6 503.3L470.20000000000005 506.6L466.6 509.90000000000003Z" stroke-width="0.725" fill="#000" />
<path d="M459.6 506.6L463.6 506.6" stroke-width="2.61" />
<path d="M474.4 511L474.4 616.5" stroke-width="1.59" />
<path d="M489.4 388L489.4 438" stroke-width="1.16" />
<path d="M489.4 522L489.4 569.6" stroke-width="1.3" />
<path d="M499.5 400L499.5 426" stroke-width="1.16" />
<path d="M498.7 543.5L498.7 548.5" stroke-width="1.3" />
<path d="M498.7 558L498.7 592" stroke-width="1.3" stroke-dasharray="6 2.5"/>
<path d="M502.7 543.5L502.7 557.4" stroke-width="1.3" />
<path d="M506.8 525L506.8 580.6" stroke-width="1.3" />
<path d="M516 521L516 557.4" stroke-width="1.3" />
<path d="M567.5 388L567.5 604" stroke-width="1.16" />
<path d="M619.6 518L619.6 557.4" stroke-width="1.3" />
<path d="M627.8 527.8L627.8 580.6" stroke-width="1.3" />
<path d="M636.5 520L636.5 592" stroke-width="1.3" />
<path d="M663.3 388L663.3 468" stroke-width="1.3" />
<path d="M710 388L710 616.5" stroke-width="1.89" />
<path d="M490 557.4L502.7 557.4" stroke-width="1.16" />
<path d="M490.00 557.40L494.20 556.50L494.20 558.30Z" fill="#000" stroke="none"/>
<path d="M502.70 557.40L498.50 558.30L498.50 556.50Z" fill="#000" stroke="none"/>
<path d="M516 557.4L619.6 557.4" stroke-width="1.16" />
<path d="M516.00 557.40L520.20 556.50L520.20 558.30Z" fill="#000" stroke="none"/>
<path d="M619.60 557.40L615.40 558.30L615.40 556.50Z" fill="#000" stroke="none"/>
<path d="M490 569.3L567.5 569.3" stroke-width="1.16" />
<path d="M490.00 569.30L494.20 568.40L494.20 570.20Z" fill="#000" stroke="none"/>
<path d="M567.50 569.30L563.30 570.20L563.30 568.40Z" fill="#000" stroke="none"/>
<path d="M474.4 580.6L710 580.6" stroke-width="1.16" />
<path d="M474.40 580.60L478.60 579.70L478.60 581.50Z" fill="#000" stroke="none"/>
<path d="M506.80 580.60L502.60 581.50L502.60 579.70Z" fill="#000" stroke="none"/>
<path d="M506.80 580.60L511.00 579.70L511.00 581.50Z" fill="#000" stroke="none"/>
<path d="M627.80 580.60L623.60 581.50L623.60 579.70Z" fill="#000" stroke="none"/>
<path d="M627.80 580.60L632.00 579.70L632.00 581.50Z" fill="#000" stroke="none"/>
<path d="M710.00 580.60L705.80 581.50L705.80 579.70Z" fill="#000" stroke="none"/>
<path d="M501.5 580.6L512 580.6" stroke-width="2.9" />
<path d="M622.5 580.6L633 580.6" stroke-width="2.9" />
<path d="M474.4 592L710 592" stroke-width="1.16" />
<path d="M474.40 592.00L478.60 591.10L478.60 592.90Z" fill="#000" stroke="none"/>
<path d="M498.70 592.00L494.50 592.90L494.50 591.10Z" fill="#000" stroke="none"/>
<path d="M498.70 592.00L502.90 591.10L502.90 592.90Z" fill="#000" stroke="none"/>
<path d="M636.50 592.00L632.30 592.90L632.30 591.10Z" fill="#000" stroke="none"/>
<path d="M636.50 592.00L640.70 591.10L640.70 592.90Z" fill="#000" stroke="none"/>
<path d="M710.00 592.00L705.80 592.90L705.80 591.10Z" fill="#000" stroke="none"/>
<path d="M474.4 603.7L710 603.7" stroke-width="1.16" />
<path d="M474.40 603.70L478.60 602.80L478.60 604.60Z" fill="#000" stroke="none"/>
<path d="M567.50 603.70L563.30 604.60L563.30 602.80Z" fill="#000" stroke="none"/>
<path d="M567.50 603.70L571.70 602.80L571.70 604.60Z" fill="#000" stroke="none"/>
<path d="M710.00 603.70L705.80 604.60L705.80 602.80Z" fill="#000" stroke="none"/>
<path d="M562 603.7L573 603.7" stroke-width="2.9" />
<path d="M474.4 615L710 615" stroke-width="1.16" />
<path d="M474.40 615.00L478.60 614.10L478.60 615.90Z" fill="#000" stroke="none"/>
<path d="M710.00 615.00L705.80 615.90L705.80 614.10Z" fill="#000" stroke="none"/>
<path d="M666.7 401.6L666.7 414.5Q666.7 418.4 670.5 418.4L704.6 418.4Q708.4 418.4 708.4 414.5L708.4 401.6" stroke-width="1.45" fill="none" />
<path d="M710 414L726 414" stroke-width="1.01" />
<path d="M708 418.4L726 418.4" stroke-width="1.01" />
<path d="M724.4 404L724.4 430" stroke-width="1.16" />
<path d="M724.40 414.00L723.50 409.80L725.30 409.80Z" fill="#000" stroke="none"/>
<path d="M724.40 418.40L725.30 422.60L723.50 422.60Z" fill="#000" stroke="none"/>
<path d="M655 452.4L759.3 452.4L759.3 507.3L655 507.3" stroke-width="1.16" fill="none" />
<path d="M759.30 452.40L760.20 456.60L758.40 456.60Z" fill="#000" stroke="none"/>
<path d="M759.30 507.30L758.40 503.10L760.20 503.10Z" fill="#000" stroke="none"/>
<path d="M725.1 468L725.1 489.5" stroke-width="1.16" />
<path d="M725.10 470.10L726.00 474.30L724.20 474.30Z" fill="#000" stroke="none"/>
<path d="M725.10 489.50L724.20 485.30L726.00 485.30Z" fill="#000" stroke="none"/>
<path d="M736.1 489.5L736.1 468.3L747.1 468.3L747.1 489.5" stroke-width="1.16" fill="none" />
<path d="M710 489.5L747.1 489.5" stroke-width="1.16" />
<path d="M710 484L724.2 484" stroke-width="1.01" />
<path d="M724.2 484L724.2 498.4" stroke-width="1.16" />
<path d="M692.7 476L692.7 523.2" stroke-width="1.16" />
<path d="M692.7 523.2L710 523.2" stroke-width="1.16" />
<path d="M692.70 523.20L696.90 522.30L696.90 524.10Z" fill="#000" stroke="none"/>
<path d="M710.00 523.20L705.80 524.10L705.80 522.30Z" fill="#000" stroke="none"/>
<path d="M661 520L661 535.1" stroke-width="1.16" />
<path d="M661 535.1L710 535.1" stroke-width="1.16" />
<path d="M661.00 535.10L665.20 534.20L665.20 536.00Z" fill="#000" stroke="none"/>
<path d="M710.00 535.10L705.80 536.00L705.80 534.20Z" fill="#000" stroke="none"/>
<path d="M644.6 546.1L710 546.1" stroke-width="1.16" />
<path d="M655.00 546.10L650.80 547.00L650.80 545.20Z" fill="#000" stroke="none"/>
<path d="M657.40 546.10L661.60 545.20L661.60 547.00Z" fill="#000" stroke="none"/>
<path d="M657.40 546.10L661.60 545.20L661.60 547.00Z" fill="#000" stroke="none"/>
<path d="M710.00 546.10L705.80 547.00L705.80 545.20Z" fill="#000" stroke="none"/>
<path d="M655 452L655 546.5" stroke-width="1.16" />
<path d="M657.4 452L657.4 546.5" stroke-width="1.16" />
<text class="d" transform="translate(528.7 386) scale(0.9 1)" y="2.95">135</text>
<text class="d" transform="translate(496.7 397.4) scale(0.9 1)" y="2.95">17</text>
<text class="d" transform="translate(688.4 386) scale(0.9 1)" y="2.95">80</text>
<text class="d" transform="translate(656 397.4) scale(0.9 1)" y="2.95">5</text>
<text class="d" transform="translate(686.7 397.4) scale(0.9 1)" y="2.95">70</text>
<text class="d" transform="translate(716.9 397.4) scale(0.9 1)" y="2.95">5</text>
<text class="d" transform="translate(720 425.6) rotate(-90) scale(0.9 1)" y="2.95">10</text>
<text class="d" transform="translate(433.3 438.6) rotate(-90) scale(0.9 1)" y="2.95">82</text>
<text class="d" transform="translate(445 466) rotate(-90) scale(0.9 1)" y="2.70" font-size="7.5">34</text>
<text class="d" transform="translate(455.4 462) rotate(-90) scale(0.9 1)" y="2.70" font-size="7.5">G 3/4</text>
<text class="d" transform="translate(432.7 483.7) rotate(-90) scale(0.9 1)" y="2.95">80</text>
<text class="d" transform="translate(444.3 492.9) rotate(-90) scale(0.9 1)" y="2.95">46</text>
<text class="d" transform="translate(420.8 500) rotate(-90) scale(0.9 1)" y="2.95">144</text>
<text class="d" transform="translate(455.4 506.6) rotate(-90) scale(0.9 1)" y="2.70" font-size="7.5">G 1"1/4</text>
<text class="d" transform="translate(432.7 524.8) rotate(-90) scale(0.9 1)" y="2.95">64</text>
<text class="d" transform="translate(730.2 474.6) rotate(-90) scale(0.9 1)" y="2.81" font-size="7.8">ø 35 g6</text>
<text class="d" transform="translate(742.9 478.8) rotate(-90) scale(0.9 1)" y="2.95">38</text>
<text class="d" transform="translate(754.2 478) rotate(-90) scale(0.9 1)" y="2.81" font-size="7.8">ø95,5 H8</text>
<text class="d" transform="translate(719.6 492.7) rotate(-90) scale(0.9 1)" y="2.70" font-size="7.5">M 12</text>
<text class="d" transform="translate(701.3 518.8) scale(0.9 1)" y="2.95">30</text>
<text class="d" transform="translate(683.9 530.4) scale(0.9 1)" y="2.95">84,5</text>
<text class="d" transform="translate(683.9 542) scale(0.9 1)" y="2.95">92</text>
<text class="d" transform="translate(647 542) scale(0.9 1)" y="2.95">5</text>
<text class="d" transform="translate(496.2 553.2) scale(0.9 1)" y="2.95">22</text>
<text class="d" transform="translate(570.4 553.2) scale(0.9 1)" y="2.95">178</text>
<text class="d" transform="translate(526 564.7) scale(0.9 1)" y="2.95">135</text>
<text class="d" transform="translate(492.6 576.3) scale(0.9 1)" y="2.95">57,5</text>
<text class="d" transform="translate(567.3 576.3) scale(0.9 1)" y="2.95">210</text>
<text class="d" transform="translate(672.9 576.3) scale(0.9 1)" y="2.95">142</text>
<text class="d" transform="translate(486.2 587.7) scale(0.9 1)" y="2.95">42,5</text>
<text class="d" transform="translate(564.4 587.7) scale(0.9 1)" y="2.95">240</text>
<text class="d" transform="translate(675.4 587.7) scale(0.9 1)" y="2.95">127</text>
<text class="d" transform="translate(524.3 599.2) scale(0.9 1)" y="2.95">162,5</text>
<text class="d" transform="translate(637.3 599.2) scale(0.9 1)" y="2.95">247</text>
<text class="d" transform="translate(584 610.9) scale(0.9 1)" y="2.95">409,5</text>
<path d="M490.3 521L498.8 543.5L516 543.5L516 523" stroke-width="1.45" fill="none" />
<path d="M498.8 523L498.8 543.5" stroke-width="1.45" />
<path d="M503 527L503 543.5" stroke-width="2.03" />
<path d="M511 527L511 543.5" stroke-width="1.45" />
<path d="M645 521L636.5 543.5L620.2 543.5L620.2 523" stroke-width="1.45" fill="none" />
<path d="M634.1 523L634.1 543.5" stroke-width="1.45" />
<path d="M625 527L625 543.5" stroke-width="1.45" />
<path d="M630.5 527L630.5 543.5" stroke-width="2.03" />
<path d="M516 523.5L620.2 523.5" stroke-width="1.45" />
<path d="M516 527.5L620.2 527.5" stroke-width="2.32" />
<path d="M516 541Q567.5 528.5 620.2 541" stroke-width="1.59" fill="none" />
<rect x="561.9" y="535" width="13.9" height="5.3" stroke-width="1.45" fill="#fff" />
<path d="M559 535L578 535" stroke-width="1.45" />
<rect x="484.3" y="437.8" width="3.3" height="83.2" stroke-width="0" fill="#000" stroke="none"/>
<path d="M489 440L489 521" stroke-width="1.01" />
<rect x="474.7" y="439.9" width="5.6" height="9.6" stroke-width="1.59" fill="#fff" />
<path d="M477.5 439.9L477.5 449.5" stroke-width="1.01" />
<rect x="480.3" y="441.9" width="4" height="5.6" stroke-width="1.16" fill="#fff" />
<rect x="657.6" y="440.9" width="5" height="8.6" stroke-width="1.59" fill="#fff" />
<path d="M660 440.9L660 449.5" stroke-width="1.01" />
<rect x="474.7" y="458" width="5.6" height="9.7" stroke-width="1.59" fill="#fff" />
<path d="M477.5 458L477.5 467.7" stroke-width="1.01" />
<rect x="480.3" y="460" width="4" height="5.7" stroke-width="1.16" fill="#fff" />
<rect x="657.6" y="459" width="5" height="8.7" stroke-width="1.59" fill="#fff" />
<path d="M660 459L660 467.7" stroke-width="1.01" />
<rect x="474.7" y="492.3" width="5.6" height="9.6" stroke-width="1.59" fill="#fff" />
<path d="M477.5 492.3L477.5 501.9" stroke-width="1.01" />
<rect x="480.3" y="494.3" width="4" height="5.6" stroke-width="1.16" fill="#fff" />
<rect x="657.6" y="493.3" width="5" height="8.6" stroke-width="1.59" fill="#fff" />
<path d="M660 493.3L660 501.9" stroke-width="1.01" />
<rect x="474.7" y="510.4" width="5.6" height="9.6" stroke-width="1.59" fill="#fff" />
<path d="M477.5 510.4L477.5 520" stroke-width="1.01" />
<rect x="480.3" y="512.4" width="4" height="5.6" stroke-width="1.16" fill="#fff" />
<rect x="657.6" y="511.4" width="5" height="8.6" stroke-width="1.59" fill="#fff" />
<path d="M660 511.4L660 520" stroke-width="1.01" />
<rect x="486" y="470" width="3.5" height="6" stroke-width="0" fill="#000" stroke="none"/>
<rect x="486" y="483" width="3.5" height="6" stroke-width="0" fill="#000" stroke="none"/>
<rect x="648" y="438.8" width="3.2" height="82.2" stroke-width="1.3" fill="#fff" />
<path d="M649.6 470L649.6 490" stroke-width="2.9" />
<path d="M647 493C651 497 652.5 505 652 517" stroke-width="1.45" fill="none" />
<rect x="656.8" y="468.9" width="6.5" height="21.1" stroke-width="1.45" fill="#fff" />
<path d="M470 479.8L714 479.8" stroke-width="0.725" />
<path d="M663.3 470.1L726 470.1M663.3 489.5L710 489.5" stroke-width="1.45" fill="none" />
<rect x="666.5" y="468.2" width="40.3" height="1.9" stroke-width="1.16" fill="#fff" />
<path d="M710 476.2L690.5 476.2L687.5 479.6L690.5 483L710 483" stroke-width="1.3" fill="none" />
<path d="M697 477.6L709 477.6" stroke-width="0.725" />
<path d="M697 481.6L709 481.6" stroke-width="0.725" />
<path d="M490.3 440L500 426L633 426L645.9 440L645.9 519.5L490.3 519.5Z" stroke-width="2.17" fill="#fff" />
<path d="M491.5 441.5L500.6 428.3L632.4 428.3L644.7 441.5" stroke-width="4.35" fill="none" stroke-linejoin="miter"/>
<path d="M503 433.2L630 433.2" stroke-width="3.19" stroke-dasharray="4.2 2.2"/>
<path d="M497 446C497 440 500 436.5 506 436.5L630 436.5C636 436.5 639.5 440 639.5 446" stroke-width="1.3" fill="none" />
<path d="M497 446L497 468" stroke-width="1.3" />
<path d="M639.5 446L639.5 468" stroke-width="1.3" />
<rect x="507.4" y="420" width="8.6" height="7" stroke-width="0" fill="#000" stroke="none"/>
<path d="M511.7 420.5L511.7 424" stroke-width="1.3" stroke="#fff"/>
<path d="M508.6 424.8L514.8 424.8" stroke-width="1.01" stroke="#fff"/>
<rect x="520.9" y="420" width="8.5" height="7" stroke-width="0" fill="#000" stroke="none"/>
<path d="M525.15 420.5L525.15 424" stroke-width="1.3" stroke="#fff"/>
<path d="M522.1 424.8L528.2 424.8" stroke-width="1.01" stroke="#fff"/>
<rect x="534.1" y="420" width="8.5" height="7" stroke-width="0" fill="#000" stroke="none"/>
<path d="M538.35 420.5L538.35 424" stroke-width="1.3" stroke="#fff"/>
<path d="M535.3 424.8L541.4 424.8" stroke-width="1.01" stroke="#fff"/>
<rect x="593.9" y="420" width="8.1" height="7" stroke-width="0" fill="#000" stroke="none"/>
<path d="M597.95 420.5L597.95 424" stroke-width="1.3" stroke="#fff"/>
<path d="M595.1 424.8L600.8 424.8" stroke-width="1.01" stroke="#fff"/>
<rect x="607.4" y="420" width="7.9" height="7" stroke-width="0" fill="#000" stroke="none"/>
<path d="M611.35 420.5L611.35 424" stroke-width="1.3" stroke="#fff"/>
<path d="M608.6 424.8L614.1 424.8" stroke-width="1.01" stroke="#fff"/>
<rect x="620.9" y="420" width="7.9" height="7" stroke-width="0" fill="#000" stroke="none"/>
<path d="M624.85 420.5L624.85 424" stroke-width="1.3" stroke="#fff"/>
<path d="M622.1 424.8L627.6 424.8" stroke-width="1.01" stroke="#fff"/>
<rect x="559" y="413.5" width="17.6" height="12.5" stroke-width="1.45" fill="#fff" />
<path d="M561.8 414L561.8 422.5" stroke-width="1.59" />
<path d="M564.4 414L564.4 422.5" stroke-width="1.59" />
<path d="M570.6 414L570.6 422.5" stroke-width="1.59" />
<path d="M573.4 414L573.4 422.5" stroke-width="1.59" />
<path d="M559 422.5L576.6 422.5" stroke-width="1.3" />
<path d="M497 447.3L639.5 447.3M497 452.3L639.5 452.3" stroke-width="1.89" fill="none" />
<path d="M490.3 472.4L645.9 472.4M490.3 475.4L645.9 475.4" stroke-width="2.03" fill="none" />
<path d="M525.8 436.5L525.8 442M529.8 436.5L529.8 442M525.8 458L525.8 472.5M529.8 458L529.8 472.5" stroke-width="2.03" fill="none" />
<path d="M536.40 449.90L532.10 457.35L523.50 457.35L519.20 449.90L523.50 442.45L532.10 442.45Z" stroke-width="0" fill="#000" stroke="none"/>
<circle cx="527.8" cy="449.9" r="6.3" stroke-width="0.652" fill="none" stroke="#fff"/>
<circle cx="527.8" cy="449.9" r="4.2" stroke-width="0" fill="#fff" stroke="none"/>
<path d="M515.8 449.9L519.8 449.9" stroke-width="2.32" />
<path d="M535.8 449.9L539.8 449.9" stroke-width="2.32" />
<path d="M552.3 436.5L552.3 442M556.3 436.5L556.3 442M552.3 458L552.3 472.5M556.3 458L556.3 472.5" stroke-width="2.03" fill="none" />
<path d="M562.90 449.90L558.60 457.35L550.00 457.35L545.70 449.90L550.00 442.45L558.60 442.45Z" stroke-width="0" fill="#000" stroke="none"/>
<circle cx="554.3" cy="449.9" r="6.3" stroke-width="0.652" fill="none" stroke="#fff"/>
<circle cx="554.3" cy="449.9" r="4.2" stroke-width="0" fill="#fff" stroke="none"/>
<path d="M542.3 449.9L546.3 449.9" stroke-width="2.32" />
<path d="M562.3 449.9L566.3 449.9" stroke-width="2.32" />
<path d="M578.8 436.5L578.8 442M582.8 436.5L582.8 442M578.8 458L578.8 472.5M582.8 458L582.8 472.5" stroke-width="2.03" fill="none" />
<path d="M589.40 449.90L585.10 457.35L576.50 457.35L572.20 449.90L576.50 442.45L585.10 442.45Z" stroke-width="0" fill="#000" stroke="none"/>
<circle cx="580.8" cy="449.9" r="6.3" stroke-width="0.652" fill="none" stroke="#fff"/>
<circle cx="580.8" cy="449.9" r="4.2" stroke-width="0" fill="#fff" stroke="none"/>
<path d="M568.8 449.9L572.8 449.9" stroke-width="2.32" />
<path d="M588.8 449.9L592.8 449.9" stroke-width="2.32" />
<path d="M605.4 436.5L605.4 442M609.4 436.5L609.4 442M605.4 458L605.4 472.5M609.4 458L609.4 472.5" stroke-width="2.03" fill="none" />
<path d="M616.00 449.90L611.70 457.35L603.10 457.35L598.80 449.90L603.10 442.45L611.70 442.45Z" stroke-width="0" fill="#000" stroke="none"/>
<circle cx="607.4" cy="449.9" r="6.3" stroke-width="0.652" fill="none" stroke="#fff"/>
<circle cx="607.4" cy="449.9" r="4.2" stroke-width="0" fill="#fff" stroke="none"/>
<path d="M595.4 449.9L599.4 449.9" stroke-width="2.32" />
<path d="M615.4 449.9L619.4 449.9" stroke-width="2.32" />
<circle cx="496.7" cy="474.1" r="5.4" stroke-width="2.9" fill="#fff" />
<circle cx="496.7" cy="489.4" r="5.4" stroke-width="2.9" fill="#fff" />
<circle cx="638.6" cy="474.1" r="5.4" stroke-width="2.9" fill="#fff" />
<circle cx="638.6" cy="489.4" r="5.4" stroke-width="2.9" fill="#fff" />
<path d="M508 504L508 510Q508 515.6 514 515.6L623 515.6Q629 515.6 629 510L629 504Z" stroke-width="0" fill="#000" stroke="none"/>
<path d="M518.2 476L518.2 488Q518.2 495 522.7 497M537.2 476L537.2 488Q537.2 495 532.7 497" stroke-width="2.03" fill="none" />
<path d="M521.5 476L521.5 484L524.7 489M533.9000000000001 476L533.9000000000001 484L530.7 489" stroke-width="2.9" fill="none" />
<path d="M526.5 476L526.5 486M528.9000000000001 476L528.9000000000001 486" stroke-width="1.16" fill="none" />
<path d="M544.9 476L544.9 488Q544.9 495 549.4 497M563.9 476L563.9 488Q563.9 495 559.4 497" stroke-width="2.03" fill="none" />
<path d="M548.1999999999999 476L548.1999999999999 484L551.4 489M560.6 476L560.6 484L557.4 489" stroke-width="2.9" fill="none" />
<path d="M553.1999999999999 476L553.1999999999999 486M555.6 476L555.6 486" stroke-width="1.16" fill="none" />
<path d="M571.4 476L571.4 488Q571.4 495 575.9 497M590.4 476L590.4 488Q590.4 495 585.9 497" stroke-width="2.03" fill="none" />
<path d="M574.6999999999999 476L574.6999999999999 484L577.9 489M587.1 476L587.1 484L583.9 489" stroke-width="2.9" fill="none" />
<path d="M579.6999999999999 476L579.6999999999999 486M582.1 476L582.1 486" stroke-width="1.16" fill="none" />
<path d="M597.9 476L597.9 488Q597.9 495 602.4 497M616.9 476L616.9 488Q616.9 495 612.4 497" stroke-width="2.03" fill="none" />
<path d="M601.1999999999999 476L601.1999999999999 484L604.4 489M613.6 476L613.6 484L610.4 489" stroke-width="2.9" fill="none" />
<path d="M606.1999999999999 476L606.1999999999999 486M608.6 476L608.6 486" stroke-width="1.16" fill="none" />
<path d="M512.2 476L512.2 494M516.8 476L516.8 494" stroke-width="1.89" fill="none" />
<path d="M538.7 476L538.7 494M543.3 476L543.3 494" stroke-width="1.89" fill="none" />
<path d="M565.3000000000001 476L565.3000000000001 494M569.9 476L569.9 494" stroke-width="1.89" fill="none" />
<path d="M591.9000000000001 476L591.9000000000001 494M596.5 476L596.5 494" stroke-width="1.89" fill="none" />
<path d="M618.5 476L618.5 494M623.0999999999999 476L623.0999999999999 494" stroke-width="1.89" fill="none" />
<circle cx="527.7" cy="492.3" r="5.9" stroke-width="0" fill="#000" stroke="none"/>
<circle cx="527.7" cy="492.3" r="3.5" stroke-width="0" fill="#fff" stroke="none"/>
<rect x="525.1" y="498" width="5.2" height="14" stroke-width="0" fill="#000" stroke="none"/>
<rect x="526.7" y="500" width="2" height="8" stroke-width="0" fill="#fff" stroke="none"/>
<circle cx="554.4" cy="492.3" r="5.9" stroke-width="0" fill="#000" stroke="none"/>
<circle cx="554.4" cy="492.3" r="3.5" stroke-width="0" fill="#fff" stroke="none"/>
<rect x="551.8" y="498" width="5.2" height="14" stroke-width="0" fill="#000" stroke="none"/>
<rect x="553.4" y="500" width="2" height="8" stroke-width="0" fill="#fff" stroke="none"/>
<circle cx="580.9" cy="492.3" r="5.9" stroke-width="0" fill="#000" stroke="none"/>
<circle cx="580.9" cy="492.3" r="3.5" stroke-width="0" fill="#fff" stroke="none"/>
<rect x="578.3" y="498" width="5.2" height="14" stroke-width="0" fill="#000" stroke="none"/>
<rect x="579.9" y="500" width="2" height="8" stroke-width="0" fill="#fff" stroke="none"/>
<circle cx="607.4" cy="492.3" r="5.9" stroke-width="0" fill="#000" stroke="none"/>
<circle cx="607.4" cy="492.3" r="3.5" stroke-width="0" fill="#fff" stroke="none"/>
<rect x="604.8" y="498" width="5.2" height="14" stroke-width="0" fill="#000" stroke="none"/>
<rect x="606.4" y="500" width="2" height="8" stroke-width="0" fill="#fff" stroke="none"/>
<circle cx="514.2" cy="504" r="11.4" stroke-width="0" fill="#000" stroke="none"/>
<circle cx="514.2" cy="504" r="8.9" stroke-width="0" fill="#fff" stroke="none"/>
<circle cx="540.7" cy="504" r="11.4" stroke-width="0" fill="#000" stroke="none"/>
<circle cx="540.7" cy="504" r="8.9" stroke-width="0" fill="#fff" stroke="none"/>
<circle cx="567.5" cy="504" r="11.4" stroke-width="0" fill="#000" stroke="none"/>
<circle cx="567.5" cy="504" r="8.9" stroke-width="0" fill="#fff" stroke="none"/>
<circle cx="594.1" cy="504" r="11.4" stroke-width="0" fill="#000" stroke="none"/>
<circle cx="594.1" cy="504" r="8.9" stroke-width="0" fill="#fff" stroke="none"/>
<circle cx="620.9" cy="504" r="11.4" stroke-width="0" fill="#000" stroke="none"/>
<circle cx="620.9" cy="504" r="8.9" stroke-width="0" fill="#fff" stroke="none"/>
<path d="M490.3 519.5L505 519.5L505 522L490.3 522Z" stroke-width="0.87" fill="#555" />
<path d="M505 494C509 497 510 505 507 512" stroke-width="1.16" fill="none" />
</svg></div></body></html>
